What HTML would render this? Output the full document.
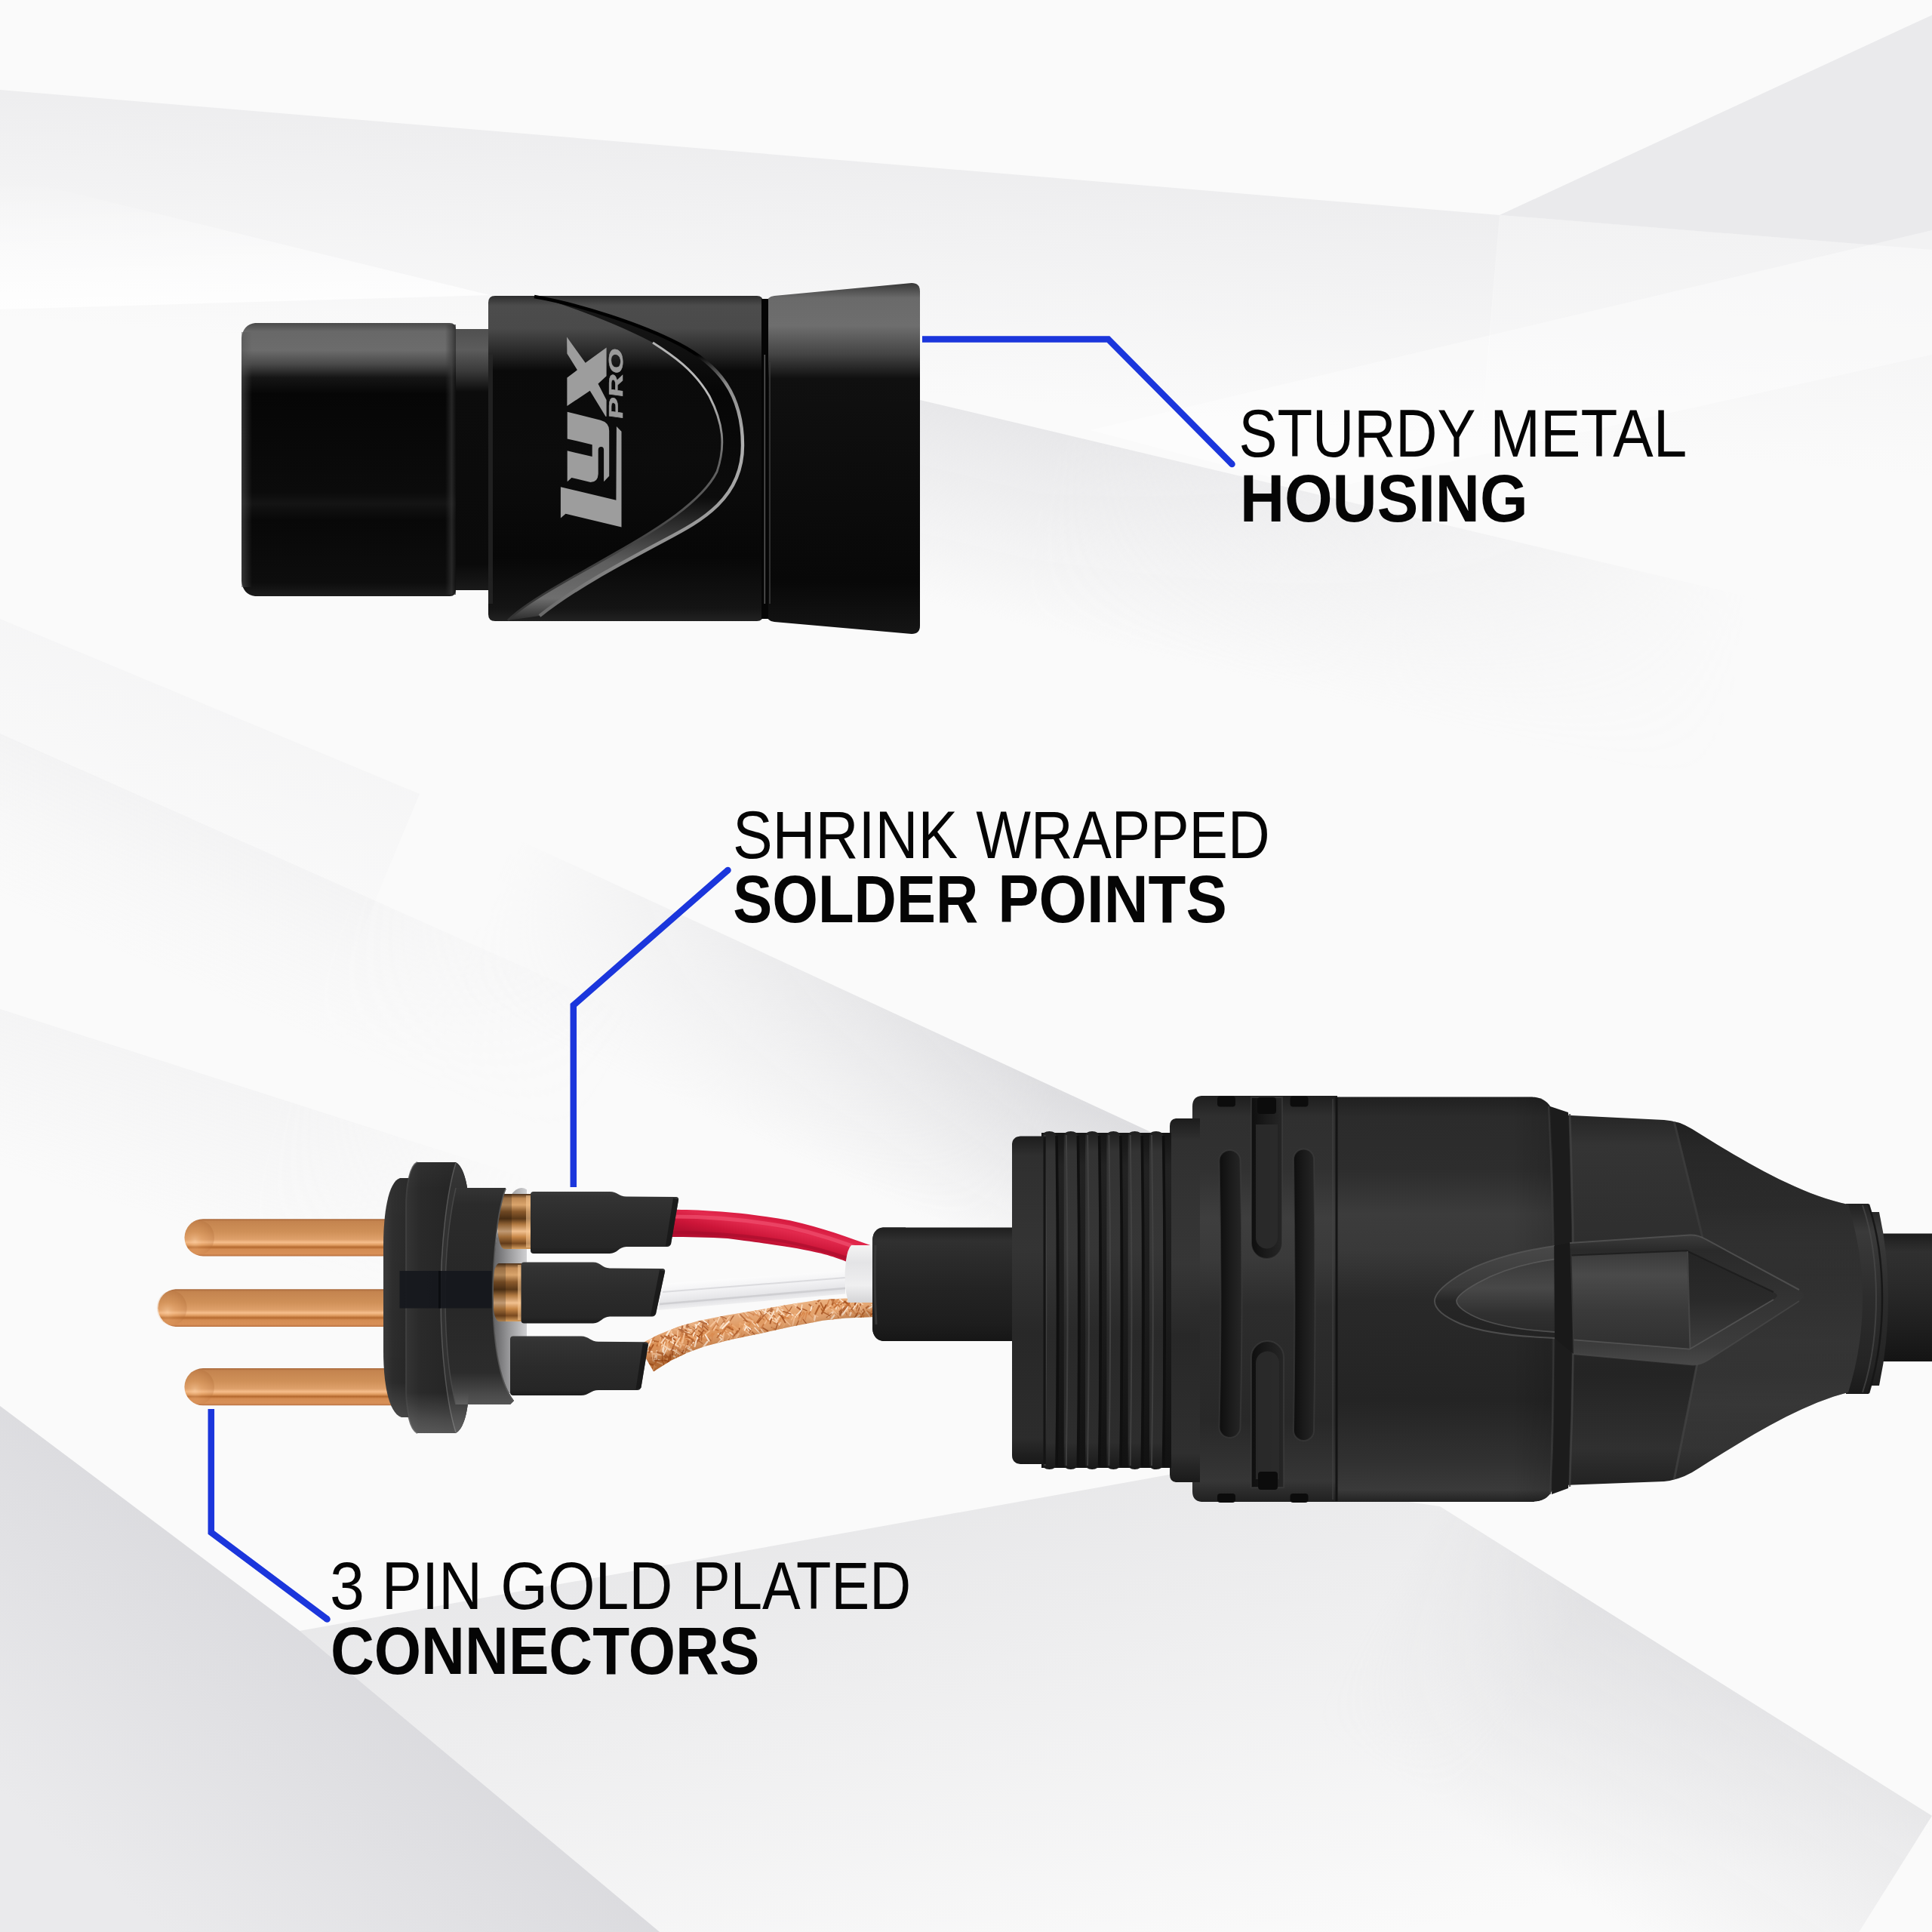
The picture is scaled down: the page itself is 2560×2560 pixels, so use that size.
<!DOCTYPE html>
<html>
<head>
<meta charset="utf-8">
<title>XLR connector features</title>
<style>
html,body{margin:0;padding:0;background:#f7f7f8;}
body{width:2560px;height:2560px;overflow:hidden;font-family:"Liberation Sans",sans-serif;}
svg{display:block;position:absolute;left:0;top:0;}
text{font-family:"Liberation Sans",sans-serif;}
</style>
</head>
<body>
<svg width="2560" height="2560" viewBox="0 0 2560 2560">
<defs>
<linearGradient id="f1" gradientUnits="userSpaceOnUse" x1="994" y1="202" x2="969" y2="501"><stop offset="0" stop-color="#d6d6da" stop-opacity="0.34"/><stop offset="1" stop-color="#d6d6da" stop-opacity="0"/></linearGradient>
<linearGradient id="f1b" gradientUnits="userSpaceOnUse" x1="2344" y1="314" x2="2320" y2="613"><stop offset="0" stop-color="#d6d6da" stop-opacity="0.22"/><stop offset="1" stop-color="#d6d6da" stop-opacity="0"/></linearGradient>
<linearGradient id="f3" gradientUnits="userSpaceOnUse" x1="324" y1="400" x2="320" y2="231"><stop offset="0" stop-color="#ffffff" stop-opacity="0.8"/><stop offset="1" stop-color="#ffffff" stop-opacity="0"/></linearGradient>
<linearGradient id="f5" gradientUnits="userSpaceOnUse" x1="1960" y1="706" x2="1899" y2="959"><stop offset="0" stop-color="#d6d6da" stop-opacity="0.5"/><stop offset="1" stop-color="#d6d6da" stop-opacity="0"/></linearGradient>
<linearGradient id="f5t" gradientUnits="userSpaceOnUse" x1="1397" y1="572" x2="2330" y2="794"><stop offset="0" stop-color="#fff"/><stop offset="1" stop-color="#000"/></linearGradient>
<mask id="f5m" maskUnits="userSpaceOnUse" x="0" y="0" width="2560" height="2560"><rect width="2560" height="2560" fill="url(#f5t)"/></mask>
<linearGradient id="s1a" gradientUnits="userSpaceOnUse" x1="278" y1="936" x2="186" y2="1157"><stop offset="0" stop-color="#d6d6da" stop-opacity="0.12"/><stop offset="1" stop-color="#d6d6da" stop-opacity="0"/></linearGradient>
<linearGradient id="s1b" gradientUnits="userSpaceOnUse" x1="1086" y1="1297" x2="989" y2="1506"><stop offset="0" stop-color="#d0d0d4" stop-opacity="0.68"/><stop offset="1" stop-color="#d0d0d4" stop-opacity="0"/></linearGradient>
<linearGradient id="s1bt" gradientUnits="userSpaceOnUse" x1="1404" y1="1444" x2="683" y2="1111"><stop offset="0" stop-color="#fff"/><stop offset="1" stop-color="#000"/></linearGradient>
<mask id="s1bm" maskUnits="userSpaceOnUse" x="0" y="0" width="2560" height="2560"><rect width="2560" height="2560" fill="url(#s1bt)"/></mask>
<linearGradient id="s2" gradientUnits="userSpaceOnUse" x1="424" y1="1161" x2="343" y2="1344"><stop offset="0" stop-color="#d6d6da" stop-opacity="0.12"/><stop offset="1" stop-color="#d6d6da" stop-opacity="0"/></linearGradient>
<linearGradient id="s2t" gradientUnits="userSpaceOnUse" x1="466" y1="1180" x2="848" y2="1350"><stop offset="0" stop-color="#fff"/><stop offset="1" stop-color="#000"/></linearGradient>
<mask id="s2m" maskUnits="userSpaceOnUse" x="0" y="0" width="2560" height="2560"><rect width="2560" height="2560" fill="url(#s2t)"/></mask>
<linearGradient id="s3" gradientUnits="userSpaceOnUse" x1="371" y1="1456" x2="310" y2="1646"><stop offset="0" stop-color="#d6d6da" stop-opacity="0.14"/><stop offset="1" stop-color="#d6d6da" stop-opacity="0"/></linearGradient>
<linearGradient id="s3t" gradientUnits="userSpaceOnUse" x1="371" y1="1456" x2="705" y2="1563"><stop offset="0" stop-color="#fff"/><stop offset="1" stop-color="#000"/></linearGradient>
<mask id="s3m" maskUnits="userSpaceOnUse" x="0" y="0" width="2560" height="2560"><rect width="2560" height="2560" fill="url(#s3t)"/></mask>
<linearGradient id="b1" gradientUnits="userSpaceOnUse" x1="636" y1="2360" x2="366" y2="2683"><stop offset="0" stop-color="#cdcdd2" stop-opacity="0.5"/><stop offset="1" stop-color="#cdcdd2" stop-opacity="0"/></linearGradient>
<linearGradient id="b2" gradientUnits="userSpaceOnUse" x1="987" y1="2055" x2="1102" y2="2695"><stop offset="0" stop-color="#d6d6d9" stop-opacity="0.48"/><stop offset="1" stop-color="#d6d6d9" stop-opacity="0"/></linearGradient>
<linearGradient id="b3" gradientUnits="userSpaceOnUse" x1="2234" y1="2201" x2="2053" y2="2489"><stop offset="0" stop-color="#cfcfd3" stop-opacity="0.42"/><stop offset="1" stop-color="#cfcfd3" stop-opacity="0"/></linearGradient>
<linearGradient id="b3t" gradientUnits="userSpaceOnUse" x1="2104" y1="2119" x2="1908" y2="1996"><stop offset="0" stop-color="#fff"/><stop offset="1" stop-color="#000"/></linearGradient>
<mask id="b3m" maskUnits="userSpaceOnUse" x="0" y="0" width="2560" height="2560"><rect width="2560" height="2560" fill="url(#b3t)"/></mask>
<linearGradient id="tcCyl" gradientUnits="userSpaceOnUse" x1="0" y1="428" x2="0" y2="790">
<stop offset="0" stop-color="#4a4a4a"/><stop offset=".03" stop-color="#686868"/><stop offset=".1" stop-color="#6c6c6c"/><stop offset=".15" stop-color="#4a4a4a"/><stop offset=".2" stop-color="#151515"/><stop offset=".26" stop-color="#060606"/><stop offset=".62" stop-color="#0b0b0b"/><stop offset=".66" stop-color="#141414"/><stop offset=".72" stop-color="#080808"/><stop offset=".95" stop-color="#0d0d0d"/><stop offset="1" stop-color="#1c1c1c"/></linearGradient>
<linearGradient id="tcCylEdge" x1="0" y1="0" x2="1" y2="0"><stop offset="0" stop-color="#555"/><stop offset="1" stop-color="#555" stop-opacity="0"/></linearGradient>
<linearGradient id="tcCylEdgeR" x1="0" y1="0" x2="1" y2="0"><stop offset="0" stop-color="#333" stop-opacity="0"/><stop offset=".6" stop-color="#3a3a3a"/><stop offset="1" stop-color="#111"/></linearGradient>
<linearGradient id="tcNeck" gradientUnits="userSpaceOnUse" x1="0" y1="436" x2="0" y2="782">
<stop offset="0" stop-color="#505050"/><stop offset=".08" stop-color="#5c5c5c"/><stop offset=".16" stop-color="#3a3a3a"/><stop offset=".24" stop-color="#0c0c0c"/><stop offset=".9" stop-color="#0a0a0a"/><stop offset="1" stop-color="#1a1a1a"/></linearGradient>
<linearGradient id="tcBody" gradientUnits="userSpaceOnUse" x1="0" y1="392" x2="0" y2="823">
<stop offset="0" stop-color="#2e2e2e"/><stop offset=".03" stop-color="#4c4c4c"/><stop offset=".1" stop-color="#4a4a4a"/><stop offset=".17" stop-color="#2a2a2a"/><stop offset=".23" stop-color="#0a0a0a"/><stop offset=".5" stop-color="#0c0c0c"/><stop offset=".8" stop-color="#070707"/><stop offset=".96" stop-color="#141414"/><stop offset="1" stop-color="#222"/></linearGradient>
<linearGradient id="tcFlare" gradientUnits="userSpaceOnUse" x1="0" y1="376" x2="0" y2="840">
<stop offset="0" stop-color="#3a3a3a"/><stop offset=".04" stop-color="#6a6a6a"/><stop offset=".12" stop-color="#6e6e6e"/><stop offset=".2" stop-color="#454545"/><stop offset=".27" stop-color="#101010"/><stop offset=".5" stop-color="#0d0d0d"/><stop offset=".85" stop-color="#080808"/><stop offset="1" stop-color="#151515"/></linearGradient>
<linearGradient id="tcRidge" gradientUnits="userSpaceOnUse" x1="0" y1="392" x2="0" y2="823"><stop offset="0" stop-color="#1a1a1a"/><stop offset=".15" stop-color="#111"/><stop offset=".3" stop-color="#060606"/><stop offset=".62" stop-color="#0c0c0c"/><stop offset=".74" stop-color="#3c3c3c"/><stop offset=".82" stop-color="#5e5e5e"/><stop offset=".93" stop-color="#6e6e6e"/><stop offset="1" stop-color="#2a2a2a"/></linearGradient>
<linearGradient id="tcRidgeHi" gradientUnits="userSpaceOnUse" x1="0" y1="392" x2="0" y2="823"><stop offset="0" stop-color="#000"/><stop offset=".18" stop-color="#000"/><stop offset=".27" stop-color="#8a8a8a"/><stop offset=".45" stop-color="#b0b0b0"/><stop offset=".7" stop-color="#9a9a9a"/><stop offset="1" stop-color="#666"/></linearGradient>
<linearGradient id="tcRidgeHi2" gradientUnits="userSpaceOnUse" x1="0" y1="392" x2="0" y2="823">
<stop offset="0" stop-color="#aaa"/><stop offset=".3" stop-color="#bbb"/><stop offset=".5" stop-color="#666"/><stop offset=".75" stop-color="#444"/><stop offset="1" stop-color="#333"/></linearGradient>
<linearGradient id="jacket" gradientUnits="userSpaceOnUse" x1="0" y1="1626" x2="0" y2="1777"><stop offset="0" stop-color="#1e1e1e"/><stop offset=".12" stop-color="#303030"/><stop offset=".3" stop-color="#2a2a2a"/><stop offset=".55" stop-color="#232323"/><stop offset=".85" stop-color="#1d1d1d"/><stop offset="1" stop-color="#161616"/></linearGradient>
<linearGradient id="braidBase" gradientUnits="userSpaceOnUse" x1="0" y1="1720" x2="0" y2="1820"><stop offset="0" stop-color="#e8a872"/><stop offset="1" stop-color="#cf7f42"/></linearGradient>
<linearGradient id="braidShade" gradientUnits="userSpaceOnUse" x1="1000" y1="1735" x2="1008" y2="1772"><stop offset="0" stop-color="#fff" stop-opacity=".18"/><stop offset=".5" stop-color="#fff" stop-opacity="0"/><stop offset="1" stop-color="#6a2e08" stop-opacity=".3"/></linearGradient>
<linearGradient id="whiteWire" gradientUnits="userSpaceOnUse" x1="1000" y1="1690" x2="1003" y2="1728"><stop offset="0" stop-color="#fdfdfd"/><stop offset=".4" stop-color="#f1f1f3"/><stop offset=".75" stop-color="#e2e2e5"/><stop offset="1" stop-color="#f4f4f5"/></linearGradient>
<linearGradient id="redWire" gradientUnits="userSpaceOnUse" x1="1000" y1="1610" x2="992" y2="1648"><stop offset="0" stop-color="#d81c41"/><stop offset=".3" stop-color="#e32a4e"/><stop offset=".7" stop-color="#cc1538"/><stop offset="1" stop-color="#b50f30"/></linearGradient>
<linearGradient id="whiteCap" gradientUnits="userSpaceOnUse" x1="0" y1="1650" x2="0" y2="1726"><stop offset="0" stop-color="#f4f4f4"/><stop offset=".3" stop-color="#e4e4e6"/><stop offset=".7" stop-color="#efeff0"/><stop offset="1" stop-color="#d4d4d6"/></linearGradient>
<linearGradient id="pinG" x1="0" y1="0" x2="0" y2="1"><stop offset="0" stop-color="#a8673a"/><stop offset=".06" stop-color="#c4844f"/><stop offset=".35" stop-color="#cf9058"/><stop offset=".55" stop-color="#dea06a"/><stop offset=".63" stop-color="#f6be8c"/><stop offset=".7" stop-color="#e09c60"/><stop offset=".76" stop-color="#b56a30"/><stop offset=".82" stop-color="#d48c52"/><stop offset=".94" stop-color="#d89058"/><stop offset="1" stop-color="#b87040"/></linearGradient>
<radialGradient id="pinTip" cx=".35" cy=".6" r=".7"><stop offset="0" stop-color="#ffd9b0" stop-opacity=".75"/><stop offset=".4" stop-color="#e8a468" stop-opacity=".4"/><stop offset="1" stop-color="#a05a28" stop-opacity=".45"/></radialGradient>
<linearGradient id="hubG" gradientUnits="userSpaceOnUse" x1="0" y1="1573" x2="0" y2="1862"><stop offset="0" stop-color="#343434"/><stop offset=".08" stop-color="#2b2b2b"/><stop offset=".5" stop-color="#272727"/><stop offset=".85" stop-color="#2c2c2c"/><stop offset=".95" stop-color="#4a4a4a"/><stop offset="1" stop-color="#555"/></linearGradient>
<linearGradient id="ringG" gradientUnits="userSpaceOnUse" x1="652" y1="0" x2="698" y2="0"><stop offset="0" stop-color="#5e5e60"/><stop offset=".5" stop-color="#9a9a9c"/><stop offset="1" stop-color="#d0d0d2"/></linearGradient>
<linearGradient id="ferG" x1="0" y1="0" x2="0" y2="1"><stop offset="0" stop-color="#4a2f18"/><stop offset=".08" stop-color="#c08a55"/><stop offset=".2" stop-color="#d9a46c"/><stop offset=".32" stop-color="#8a5a2c"/><stop offset=".45" stop-color="#5a3818"/><stop offset=".55" stop-color="#b07840"/><stop offset=".68" stop-color="#f0c090"/><stop offset=".78" stop-color="#c88848"/><stop offset=".9" stop-color="#7a4a20"/><stop offset="1" stop-color="#d8a060"/></linearGradient>
<linearGradient id="lipG" gradientUnits="userSpaceOnUse" x1="506" y1="0" x2="552" y2="0"><stop offset="0" stop-color="#3a3a3a"/><stop offset=".3" stop-color="#2c2c2c"/><stop offset="1" stop-color="#232323"/></linearGradient>
<linearGradient id="discG" gradientUnits="userSpaceOnUse" x1="538" y1="0" x2="600" y2="0"><stop offset="0" stop-color="#343434"/><stop offset=".3" stop-color="#2a2a2a"/><stop offset="1" stop-color="#252525"/></linearGradient>
<linearGradient id="tubeG" x1="0" y1="0" x2="0" y2="1"><stop offset="0" stop-color="#3a3a3a"/><stop offset=".08" stop-color="#333"/><stop offset=".5" stop-color="#2b2b2b"/><stop offset=".9" stop-color="#262626"/><stop offset="1" stop-color="#1c1c1c"/></linearGradient>
<linearGradient id="cableG" gradientUnits="userSpaceOnUse" x1="0" y1="1633" x2="0" y2="1804"><stop offset="0" stop-color="#1c1c1c"/><stop offset=".15" stop-color="#303030"/><stop offset=".4" stop-color="#2a2a2a"/><stop offset=".75" stop-color="#1e1e1e"/><stop offset="1" stop-color="#141414"/></linearGradient>
<linearGradient id="ringEndG" gradientUnits="userSpaceOnUse" x1="0" y1="1594" x2="0" y2="1847"><stop offset="0" stop-color="#202020"/><stop offset=".15" stop-color="#3a3a3a"/><stop offset=".5" stop-color="#2c2c2c"/><stop offset=".85" stop-color="#242424"/><stop offset="1" stop-color="#1a1a1a"/></linearGradient>
<linearGradient id="bootG" gradientUnits="userSpaceOnUse" x1="0" y1="1478" x2="0" y2="1968"><stop offset="0" stop-color="#262626"/><stop offset=".08" stop-color="#343434"/><stop offset=".3" stop-color="#2f2f2f"/><stop offset=".5" stop-color="#2a2a2a"/><stop offset=".7" stop-color="#242424"/><stop offset=".9" stop-color="#303030"/><stop offset="1" stop-color="#222"/></linearGradient>
<linearGradient id="bodyG" gradientUnits="userSpaceOnUse" x1="0" y1="1453" x2="0" y2="1990"><stop offset="0" stop-color="#202020"/><stop offset=".05" stop-color="#2b2b2b"/><stop offset=".18" stop-color="#2d2d2d"/><stop offset=".29" stop-color="#3c3c3c"/><stop offset=".38" stop-color="#393939"/><stop offset=".5" stop-color="#292929"/><stop offset=".75" stop-color="#242424"/><stop offset=".9" stop-color="#313131"/><stop offset=".97" stop-color="#3a3a3a"/><stop offset="1" stop-color="#222"/></linearGradient>
<linearGradient id="arrowOuter" gradientUnits="userSpaceOnUse" x1="0" y1="1645" x2="0" y2="1801"><stop offset="0" stop-color="#3e3e3e"/><stop offset=".5" stop-color="#2c2c2c"/><stop offset="1" stop-color="#1d1d1d"/></linearGradient>
<linearGradient id="arrowInnerL" gradientUnits="userSpaceOnUse" x1="0" y1="1666" x2="0" y2="1776"><stop offset="0" stop-color="#1e1e1e"/><stop offset=".5" stop-color="#333"/><stop offset="1" stop-color="#3a3a3a"/></linearGradient>
<linearGradient id="arrowInnerR" gradientUnits="userSpaceOnUse" x1="0" y1="1664" x2="0" y2="1782"><stop offset="0" stop-color="#1f1f1f"/><stop offset=".5" stop-color="#343434"/><stop offset="1" stop-color="#3b3b3b"/></linearGradient>
<linearGradient id="ringSlotG" gradientUnits="userSpaceOnUse" x1="0" y1="1452" x2="0" y2="1990"><stop offset="0" stop-color="#1e1e1e"/><stop offset=".05" stop-color="#2f2f2f"/><stop offset=".18" stop-color="#313131"/><stop offset=".3" stop-color="#3e3e3e"/><stop offset=".4" stop-color="#3a3a3a"/><stop offset=".52" stop-color="#2c2c2c"/><stop offset=".8" stop-color="#282828"/><stop offset=".95" stop-color="#363636"/><stop offset="1" stop-color="#202020"/></linearGradient>
<linearGradient id="slotG" x1="0" y1="0" x2="1" y2="0"><stop offset="0" stop-color="#0e0e0e"/><stop offset=".5" stop-color="#1b1b1b"/><stop offset="1" stop-color="#262626"/></linearGradient>
<linearGradient id="collarG" gradientUnits="userSpaceOnUse" x1="0" y1="1482" x2="0" y2="1964"><stop offset="0" stop-color="#1c1c1c"/><stop offset=".06" stop-color="#303030"/><stop offset=".4" stop-color="#363636"/><stop offset=".6" stop-color="#282828"/><stop offset=".92" stop-color="#2f2f2f"/><stop offset="1" stop-color="#1a1a1a"/></linearGradient>
<linearGradient id="threadBaseG" gradientUnits="userSpaceOnUse" x1="0" y1="1501" x2="0" y2="1945"><stop offset="0" stop-color="#151515"/><stop offset=".1" stop-color="#222"/><stop offset=".5" stop-color="#1c1c1c"/><stop offset="1" stop-color="#121212"/></linearGradient>
<linearGradient id="ridgeG" gradientUnits="userSpaceOnUse" x1="0" y1="1499" x2="0" y2="1947"><stop offset="0" stop-color="#1f1f1f"/><stop offset=".06" stop-color="#333"/><stop offset=".35" stop-color="#363636"/><stop offset=".6" stop-color="#292929"/><stop offset=".92" stop-color="#2d2d2d"/><stop offset="1" stop-color="#191919"/></linearGradient>
<linearGradient id="lipFrontG" gradientUnits="userSpaceOnUse" x1="0" y1="1505" x2="0" y2="1940"><stop offset="0" stop-color="#1d1d1d"/><stop offset=".06" stop-color="#2f2f2f"/><stop offset=".35" stop-color="#343434"/><stop offset=".6" stop-color="#282828"/><stop offset=".92" stop-color="#2c2c2c"/><stop offset="1" stop-color="#181818"/></linearGradient>
<linearGradient id="discShade" gradientUnits="userSpaceOnUse" x1="0" y1="1540" x2="0" y2="1899"><stop offset="0" stop-color="#fff" stop-opacity=".03"/><stop offset=".1" stop-color="#fff" stop-opacity="0"/><stop offset=".85" stop-color="#fff" stop-opacity="0"/><stop offset=".95" stop-color="#fff" stop-opacity=".16"/><stop offset="1" stop-color="#fff" stop-opacity=".22"/></linearGradient>
<linearGradient id="lipShade" gradientUnits="userSpaceOnUse" x1="0" y1="1561" x2="0" y2="1879"><stop offset="0" stop-color="#fff" stop-opacity=".02"/><stop offset=".85" stop-color="#fff" stop-opacity="0"/><stop offset="1" stop-color="#fff" stop-opacity=".15"/></linearGradient>
<linearGradient id="coneG" gradientUnits="userSpaceOnUse" x1="0" y1="1500" x2="0" y2="1950"><stop offset="0" stop-color="#1a1a1a" stop-opacity=".55"/><stop offset=".22" stop-color="#202020" stop-opacity=".35"/><stop offset=".4" stop-color="#444" stop-opacity=".15"/><stop offset=".62" stop-color="#555" stop-opacity=".3"/><stop offset=".8" stop-color="#555" stop-opacity=".32"/><stop offset="1" stop-color="#333" stop-opacity=".2"/></linearGradient>
<linearGradient id="bodyHi" gradientUnits="userSpaceOnUse" x1="1790" y1="0" x2="2056" y2="0"><stop offset="0" stop-color="#000" stop-opacity="0"/><stop offset=".15" stop-color="#000" stop-opacity="0"/><stop offset=".8" stop-color="#000" stop-opacity="0"/><stop offset="1" stop-color="#000" stop-opacity=".12"/></linearGradient>
<linearGradient id="almOuter" gradientUnits="userSpaceOnUse" x1="0" y1="1651" x2="0" y2="1773"><stop offset="0" stop-color="#484848"/><stop offset=".45" stop-color="#3a3a3a"/><stop offset=".6" stop-color="#262626"/><stop offset="1" stop-color="#232323"/></linearGradient>
<linearGradient id="almInner" gradientUnits="userSpaceOnUse" x1="0" y1="1668" x2="0" y2="1765"><stop offset="0" stop-color="#3a3a3a"/><stop offset=".4" stop-color="#484848"/><stop offset=".75" stop-color="#303030"/><stop offset="1" stop-color="#2a2a2a"/></linearGradient>
<linearGradient id="arrOuter" gradientUnits="userSpaceOnUse" x1="0" y1="1636" x2="0" y2="1809"><stop offset="0" stop-color="#3c3c3c"/><stop offset=".12" stop-color="#2a2a2a"/><stop offset=".85" stop-color="#3c3c3c"/><stop offset="1" stop-color="#484848"/></linearGradient>
<linearGradient id="arrInner" gradientUnits="userSpaceOnUse" x1="0" y1="1657" x2="0" y2="1788"><stop offset="0" stop-color="#3a3a3a"/><stop offset=".25" stop-color="#4a4a4a"/><stop offset=".6" stop-color="#3a3a3a"/><stop offset="1" stop-color="#303030"/></linearGradient>
<linearGradient id="arrTip" gradientUnits="userSpaceOnUse" x1="0" y1="1657" x2="0" y2="1788"><stop offset="0" stop-color="#242424"/><stop offset=".5" stop-color="#2a2a2a"/><stop offset="1" stop-color="#3e3e3e"/></linearGradient>

</defs>
<g id="bg">
<rect width="2560" height="2560" fill="#fafafa"/>
<polygon points="0,119 1987,285 1962,584 -25,418" fill="url(#f1)"/>
<polygon points="1987,285 2700,342 2676,641 1963,584" fill="url(#f1b)"/>
<polygon points="1987,285 2560,20 2560,331" fill="#eaeaec"/>
<polygon points="0,410 649,391 0,232" fill="url(#f3)"/>
<polygon points="1219,530 2700,882 2640,1135 1159,783" fill="url(#f5)" mask="url(#f5m)"/>
<polygon points="1444,570 2560,305 2560,470 1750,650" fill="#ffffff" opacity=".4"/>
<polygon points="0,820 556,1052 464,1273 -92,1041" fill="url(#s1a)"/>
<polygon points="556,1052 1616,1542 1519,1751 459,1261" fill="url(#s1b)" mask="url(#s1bm)"/>
<polygon points="0,972 848,1350 767,1533 -81,1155" fill="url(#s2)" mask="url(#s2m)"/>
<polygon points="0,1337 742,1575 681,1765 -61,1527" fill="url(#s3)" mask="url(#s3m)"/>
<polygon points="0,1863 397,2161 874,2560 0,2560" fill="#dcdce0" opacity=".55"/>
<polygon points="0,1863 397,2161 874,2560 0,2560" fill="url(#b1)"/>
<polygon points="397,2161 1577,1949 1908,1996 2560,2406 2560,2560 874,2560" fill="url(#b2)"/>
<polygon points="1908,1996 2560,2406 2379,2694 1727,2284" fill="url(#b3)" mask="url(#b3m)"/>
</g>

<g id="topconn">
<!-- neck -->
<rect x="600" y="436" width="50" height="346" fill="url(#tcNeck)"/>
<!-- left cylinder -->
<path d="M338 428 H596 Q604 428 604 437 V781 Q604 790 596 790 H338 Q322 788 320 770 V448 Q322 430 338 428Z" fill="url(#tcCyl)"/>
<rect x="320" y="440" width="14" height="338" fill="url(#tcCylEdge)" opacity=".55"/>
<rect x="590" y="430" width="14" height="358" fill="url(#tcCylEdgeR)" opacity=".6"/>
<!-- body -->
<path d="M656 392 H1003 Q1011 392 1011 400 V815 Q1011 823 1003 823 H656 Q647 823 647 814 V401 Q647 392 656 392Z" fill="url(#tcBody)"/>
<rect x="647" y="470" width="6" height="330" fill="#2a2a2a" opacity=".7"/>
<!-- flare -->
<path d="M1016 402 Q1016 393 1026 392 L1208 375 Q1219 375 1219 386 V829 Q1219 840 1208 840 L1026 824 Q1016 823 1016 814Z" fill="url(#tcFlare)"/>
<!-- gap -->
<rect x="1009" y="396" width="9" height="424" fill="#050505"/>
<rect x="1012.5" y="470" width="1.6" height="330" fill="#6a6a6a" opacity=".8"/>
<rect x="1019" y="480" width="2" height="320" fill="#3a3a3a" opacity=".8"/>
<!-- U groove ridge -->
<path d="M708 393 C770 404 850 430 900 456 C950 482 984 520 984 590 C984 660 930 690 880 716 C820 748 760 780 715 816 L673 822 C700 795 760 765 815 733 C870 702 930 665 950 625 C962 590 958 560 940 525 C920 490 890 470 865 454 C820 430 760 408 722 396Z" fill="url(#tcRidge)"/>
<path d="M708 393 C770 404 850 430 900 456 C950 482 984 520 984 590 C984 660 930 690 880 716 C820 748 760 780 715 816" fill="none" stroke="url(#tcRidgeHi)" stroke-width="4.4"/>
<path d="M865 454 C890 470 920 490 940 525 C958 560 962 590 950 625 C930 665 870 702 815 733 C760 765 700 795 673 822" fill="none" stroke="url(#tcRidgeHi2)" stroke-width="2.8"/>
<!-- logo -->
<g fill="#9d9d9d">
<path d="M742.9 645.2 L816.4 662.8 L816.9 565.1 L823.5 571.7 L823.5 698.5 L749.5 680.8 L742.9 686.6Z"/>
<path d="M751.7 545.7 L795.7 556.7 Q807.2 559.8 807.2 570.8 L807.2 630.7 L800.1 638.2 L800.1 596.3 Q800.1 591.9 796.6 591.9 Q792.7 591.9 792.7 596.3 L792.7 628 Q792.2 639 782.5 639 L757.4 632.9 L751.7 638.2 L751.7 597.2 L784.7 605.1 L784.7 589.3 L751.7 581.4Z"/>
<path d="M751.1 446.4 L775.7 480.8 L803.6 460.6 L803.6 498.3 L792.5 508.4 L803.6 529.9 L803.6 551.8 L802.6 552.1 L781.7 517.8 L751.4 538 L751.4 500.6 L764.9 490.2 L751.4 468.6Z"/>
<g opacity=".99"><text transform="translate(824.5 556.5) rotate(-90) skewX(-8)" font-size="26" font-weight="bold" textLength="94" lengthAdjust="spacingAndGlyphs" stroke="#9d9d9d" stroke-width=".5">PRO</text></g>
</g>
</g>

<g id="pins">
<path d="M1170 1626.5 H1345 V1777 H1170 Q1157 1775 1156 1760 V1643 Q1157 1628 1170 1626.5Z" fill="url(#jacket)"/>
<clipPath id="braidClip"><path d="M845.9 1782.7 L871.3 1769.0 L898.5 1758.0 L925.5 1750.3 L961.7 1742.9 L1002.6 1736.2 L1042.3 1729.1 L1086.6 1722.3 L1119.5 1720.6 L1159.9 1721.0 L1160.1 1745.0 L1120.5 1746.4 L1090.2 1749.7 L1047.7 1757.9 L1008.6 1766.8 L968.3 1775.1 L934.5 1783.7 L911.5 1792.0 L888.7 1803.0 L866.1 1817.3Z"/></clipPath>
<path d="M845.9 1782.7 L871.3 1769.0 L898.5 1758.0 L925.5 1750.3 L961.7 1742.9 L1002.6 1736.2 L1042.3 1729.1 L1086.6 1722.3 L1119.5 1720.6 L1159.9 1721.0 L1160.1 1745.0 L1120.5 1746.4 L1090.2 1749.7 L1047.7 1757.9 L1008.6 1766.8 L968.3 1775.1 L934.5 1783.7 L911.5 1792.0 L888.7 1803.0 L866.1 1817.3Z" fill="url(#braidBase)"/>
<g clip-path="url(#braidClip)" stroke-linecap="round" fill="none">
<path d="M921.1 1759.6L927.2 1752.6" stroke="#fbe3cc" stroke-width="1.9"/>
<path d="M1125.5 1728.2L1129.3 1724.1" stroke="#f2b98a" stroke-width="1.9"/>
<path d="M869.7 1799.6L870.4 1789.9" stroke="#f7d2b0" stroke-width="1.9"/>
<path d="M952.3 1780.8L954.8 1775.3" stroke="#d9884c" stroke-width="1.4"/>
<path d="M875.9 1782.7L881.2 1774.7" stroke="#c9743a" stroke-width="1.6"/>
<path d="M998.4 1742.7L1002.1 1734.5" stroke="#d9884c" stroke-width="2.1"/>
<path d="M970.4 1768.2L980.1 1774.1" stroke="#c9743a" stroke-width="1.3"/>
<path d="M919.8 1766.8L925.2 1771.7" stroke="#f2b98a" stroke-width="1.3"/>
<path d="M958.0 1773.4L959.2 1765.1" stroke="#f2b98a" stroke-width="2.1"/>
<path d="M1010.8 1759.5L1017.4 1763.6" stroke="#a8521f" stroke-width="1.9"/>
<path d="M967.3 1765.9L975.3 1772.4" stroke="#f7d2b0" stroke-width="2.1"/>
<path d="M921.8 1769.7L929.2 1772.9" stroke="#fbe3cc" stroke-width="1.2"/>
<path d="M967.7 1750.1L971.0 1744.3" stroke="#b35f28" stroke-width="1.4"/>
<path d="M905.4 1768.4L913.7 1770.5" stroke="#b35f28" stroke-width="2.3"/>
<path d="M1097.2 1739.6L1104.7 1750.1" stroke="#d9884c" stroke-width="2.3"/>
<path d="M883.6 1773.4L884.5 1768.4" stroke="#e9a46c" stroke-width="1.5"/>
<path d="M851.8 1795.1L858.7 1798.3" stroke="#e9a46c" stroke-width="2.0"/>
<path d="M988.5 1763.0L994.7 1752.8" stroke="#d9884c" stroke-width="1.7"/>
<path d="M946.4 1761.1L951.6 1762.9" stroke="#c9743a" stroke-width="1.7"/>
<path d="M880.1 1792.1L883.3 1786.8" stroke="#f2b98a" stroke-width="2.3"/>
<path d="M1022.4 1737.4L1024.9 1731.8" stroke="#b35f28" stroke-width="2.3"/>
<path d="M1020.5 1753.7L1023.5 1741.1" stroke="#a8521f" stroke-width="1.8"/>
<path d="M918.1 1753.7L924.6 1759.7" stroke="#e9a46c" stroke-width="1.8"/>
<path d="M903.3 1791.0L912.4 1792.8" stroke="#f7d2b0" stroke-width="2.1"/>
<path d="M922.8 1777.8L924.4 1770.9" stroke="#fbe3cc" stroke-width="2.3"/>
<path d="M931.3 1752.7L938.5 1759.5" stroke="#c9743a" stroke-width="2.2"/>
<path d="M1097.1 1744.5L1103.8 1738.5" stroke="#f7d2b0" stroke-width="2.4"/>
<path d="M1089.0 1740.6L1094.7 1729.3" stroke="#a8521f" stroke-width="2.2"/>
<path d="M1063.6 1734.4L1069.0 1736.6" stroke="#a8521f" stroke-width="1.4"/>
<path d="M901.3 1785.8L904.3 1776.0" stroke="#f2b98a" stroke-width="2.2"/>
<path d="M879.3 1784.3L881.2 1778.2" stroke="#fbe3cc" stroke-width="1.3"/>
<path d="M1136.3 1734.3L1145.1 1743.2" stroke="#e9a46c" stroke-width="1.4"/>
<path d="M875.9 1770.3L880.6 1774.3" stroke="#a8521f" stroke-width="2.0"/>
<path d="M931.5 1771.2L940.0 1763.6" stroke="#f2b98a" stroke-width="1.8"/>
<path d="M1134.7 1734.7L1137.5 1728.6" stroke="#b35f28" stroke-width="1.5"/>
<path d="M983.6 1761.4L990.9 1765.5" stroke="#e9a46c" stroke-width="1.3"/>
<path d="M1072.0 1744.7L1079.0 1754.5" stroke="#e9a46c" stroke-width="1.8"/>
<path d="M988.1 1734.8L994.2 1742.6" stroke="#e9a46c" stroke-width="1.4"/>
<path d="M974.2 1767.9L979.7 1760.6" stroke="#a8521f" stroke-width="2.1"/>
<path d="M879.0 1791.1L881.1 1786.2" stroke="#f2b98a" stroke-width="1.8"/>
<path d="M1006.9 1763.2L1011.9 1754.7" stroke="#c9743a" stroke-width="2.0"/>
<path d="M965.4 1757.3L970.8 1761.8" stroke="#b35f28" stroke-width="2.3"/>
<path d="M1118.8 1724.2L1123.8 1727.5" stroke="#a8521f" stroke-width="1.6"/>
<path d="M1044.2 1746.3L1048.6 1735.9" stroke="#e9a46c" stroke-width="2.3"/>
<path d="M1032.3 1736.1L1039.6 1746.5" stroke="#c9743a" stroke-width="2.1"/>
<path d="M885.0 1806.7L882.6 1795.2" stroke="#e9a46c" stroke-width="2.0"/>
<path d="M1154.8 1728.5L1160.9 1732.9" stroke="#fbe3cc" stroke-width="1.2"/>
<path d="M1002.1 1753.6L1007.3 1746.0" stroke="#b35f28" stroke-width="1.8"/>
<path d="M880.0 1811.1L878.9 1805.4" stroke="#b35f28" stroke-width="1.5"/>
<path d="M1123.5 1730.6L1128.6 1720.0" stroke="#b35f28" stroke-width="1.7"/>
<path d="M996.9 1751.1L1000.7 1755.4" stroke="#f7d2b0" stroke-width="2.2"/>
<path d="M898.6 1788.7L905.7 1795.8" stroke="#b35f28" stroke-width="1.3"/>
<path d="M1107.5 1725.9L1112.2 1719.8" stroke="#d9884c" stroke-width="2.3"/>
<path d="M910.9 1765.5L911.6 1752.7" stroke="#b35f28" stroke-width="1.3"/>
<path d="M894.7 1769.2L900.6 1772.2" stroke="#a8521f" stroke-width="1.8"/>
<path d="M893.0 1776.8L892.5 1771.5" stroke="#f7d2b0" stroke-width="2.1"/>
<path d="M998.4 1740.2L1006.0 1744.3" stroke="#d9884c" stroke-width="2.0"/>
<path d="M1000.0 1759.3L1008.6 1768.9" stroke="#fbe3cc" stroke-width="1.4"/>
<path d="M1116.0 1742.6L1121.0 1736.6" stroke="#f7d2b0" stroke-width="2.2"/>
<path d="M859.0 1801.7L864.2 1803.3" stroke="#d9884c" stroke-width="2.2"/>
<path d="M1044.4 1739.4L1046.4 1734.5" stroke="#e9a46c" stroke-width="1.4"/>
<path d="M961.7 1747.2L966.4 1755.3" stroke="#c9743a" stroke-width="1.2"/>
<path d="M1114.2 1728.6L1120.9 1724.2" stroke="#a8521f" stroke-width="1.5"/>
<path d="M1035.6 1741.0L1043.9 1733.0" stroke="#e9a46c" stroke-width="1.7"/>
<path d="M853.0 1777.3L858.1 1779.7" stroke="#e9a46c" stroke-width="2.0"/>
<path d="M1062.8 1746.6L1069.4 1755.1" stroke="#a8521f" stroke-width="1.4"/>
<path d="M1066.7 1748.8L1069.6 1738.5" stroke="#d9884c" stroke-width="2.1"/>
<path d="M1095.7 1730.0L1099.2 1721.0" stroke="#c9743a" stroke-width="1.3"/>
<path d="M866.7 1803.5L868.9 1795.2" stroke="#f7d2b0" stroke-width="2.0"/>
<path d="M1027.9 1749.7L1035.5 1753.8" stroke="#f2b98a" stroke-width="2.1"/>
<path d="M985.2 1760.3L988.0 1752.0" stroke="#f2b98a" stroke-width="2.2"/>
<path d="M909.3 1789.2L912.0 1776.7" stroke="#a8521f" stroke-width="2.2"/>
<path d="M876.4 1801.5L884.8 1806.7" stroke="#c9743a" stroke-width="1.3"/>
<path d="M881.9 1772.3L887.0 1775.5" stroke="#a8521f" stroke-width="1.3"/>
<path d="M916.4 1781.0L918.3 1774.0" stroke="#b35f28" stroke-width="1.8"/>
<path d="M969.0 1747.6L972.5 1743.1" stroke="#a8521f" stroke-width="1.2"/>
<path d="M970.2 1764.8L974.2 1771.8" stroke="#c9743a" stroke-width="1.3"/>
<path d="M878.0 1794.9L882.7 1798.8" stroke="#b35f28" stroke-width="2.3"/>
<path d="M1055.5 1731.6L1060.6 1735.2" stroke="#a8521f" stroke-width="2.0"/>
<path d="M951.2 1767.3L957.6 1771.1" stroke="#fbe3cc" stroke-width="1.2"/>
<path d="M1078.8 1750.4L1080.1 1744.0" stroke="#f7d2b0" stroke-width="2.3"/>
<path d="M913.5 1763.1L924.1 1768.6" stroke="#f2b98a" stroke-width="1.6"/>
<path d="M956.6 1755.1L959.8 1750.7" stroke="#b35f28" stroke-width="2.0"/>
<path d="M892.7 1797.0L898.5 1799.9" stroke="#fbe3cc" stroke-width="2.1"/>
<path d="M952.7 1739.8L959.9 1750.1" stroke="#c9743a" stroke-width="2.1"/>
<path d="M868.5 1800.4L874.0 1802.9" stroke="#b35f28" stroke-width="1.8"/>
<path d="M1125.8 1737.6L1130.8 1731.7" stroke="#b35f28" stroke-width="1.5"/>
<path d="M1071.4 1740.2L1076.4 1745.6" stroke="#d9884c" stroke-width="1.3"/>
<path d="M1030.9 1730.0L1037.4 1735.6" stroke="#fbe3cc" stroke-width="2.4"/>
<path d="M962.8 1749.4L966.9 1744.6" stroke="#f2b98a" stroke-width="1.6"/>
<path d="M942.4 1780.2L944.4 1769.4" stroke="#d9884c" stroke-width="1.7"/>
<path d="M1072.2 1728.6L1076.8 1731.6" stroke="#b35f28" stroke-width="1.9"/>
<path d="M935.6 1775.6L944.1 1767.0" stroke="#d9884c" stroke-width="1.7"/>
<path d="M965.2 1776.5L971.2 1770.6" stroke="#a8521f" stroke-width="2.4"/>
<path d="M977.3 1739.4L980.8 1745.5" stroke="#f2b98a" stroke-width="1.5"/>
<path d="M896.6 1803.6L896.1 1792.8" stroke="#a8521f" stroke-width="1.3"/>
<path d="M1081.6 1727.1L1089.8 1717.9" stroke="#b35f28" stroke-width="2.4"/>
<path d="M1028.9 1745.1L1032.9 1749.4" stroke="#f2b98a" stroke-width="1.6"/>
<path d="M1135.7 1722.6L1143.5 1728.6" stroke="#f7d2b0" stroke-width="1.8"/>
<path d="M1155.2 1722.7L1162.0 1732.7" stroke="#a8521f" stroke-width="1.8"/>
<path d="M997.3 1734.8L1002.3 1740.4" stroke="#f7d2b0" stroke-width="1.4"/>
<path d="M1115.4 1741.0L1122.9 1733.8" stroke="#fbe3cc" stroke-width="1.5"/>
<path d="M856.2 1789.2L864.1 1791.2" stroke="#f7d2b0" stroke-width="2.2"/>
<path d="M1071.7 1741.6L1075.0 1735.9" stroke="#c9743a" stroke-width="1.5"/>
<path d="M903.7 1782.9L913.6 1784.6" stroke="#e9a46c" stroke-width="2.3"/>
<path d="M981.7 1772.3L982.8 1766.2" stroke="#d9884c" stroke-width="1.3"/>
<path d="M860.3 1800.3L865.8 1800.3" stroke="#d9884c" stroke-width="1.7"/>
<path d="M1060.9 1741.4L1062.8 1729.0" stroke="#fbe3cc" stroke-width="1.4"/>
<path d="M1035.2 1743.6L1045.0 1746.9" stroke="#d9884c" stroke-width="2.2"/>
<path d="M1151.4 1733.5L1157.7 1729.9" stroke="#fbe3cc" stroke-width="1.7"/>
<path d="M1115.4 1739.4L1122.7 1730.9" stroke="#b35f28" stroke-width="2.2"/>
<path d="M953.6 1743.4L962.2 1747.2" stroke="#a8521f" stroke-width="1.4"/>
<path d="M941.5 1781.3L944.0 1774.7" stroke="#d9884c" stroke-width="1.2"/>
<path d="M853.0 1785.9L856.7 1775.5" stroke="#fbe3cc" stroke-width="1.6"/>
<path d="M930.8 1786.5L937.3 1777.9" stroke="#fbe3cc" stroke-width="2.3"/>
<path d="M922.0 1779.6L926.6 1774.5" stroke="#a8521f" stroke-width="2.1"/>
<path d="M971.3 1761.6L977.5 1771.3" stroke="#e9a46c" stroke-width="2.3"/>
<path d="M896.4 1785.5L904.9 1792.8" stroke="#c9743a" stroke-width="1.6"/>
<path d="M923.9 1767.2L926.9 1759.6" stroke="#e9a46c" stroke-width="1.5"/>
<path d="M856.6 1775.8L865.0 1776.5" stroke="#f2b98a" stroke-width="2.4"/>
<path d="M907.3 1763.6L912.8 1751.9" stroke="#a8521f" stroke-width="1.4"/>
<path d="M883.8 1788.3L884.9 1776.6" stroke="#f2b98a" stroke-width="2.1"/>
<path d="M913.9 1760.0L923.6 1764.9" stroke="#c9743a" stroke-width="1.7"/>
<path d="M889.3 1766.4L896.4 1772.9" stroke="#fbe3cc" stroke-width="1.3"/>
<path d="M908.1 1767.0L909.6 1761.4" stroke="#a8521f" stroke-width="2.4"/>
<path d="M878.2 1792.4L877.1 1780.1" stroke="#f7d2b0" stroke-width="2.3"/>
<path d="M902.2 1762.7L902.7 1754.7" stroke="#e9a46c" stroke-width="1.7"/>
<path d="M913.4 1785.6L919.6 1778.0" stroke="#fbe3cc" stroke-width="1.5"/>
<path d="M938.2 1755.2L938.7 1749.9" stroke="#c9743a" stroke-width="2.2"/>
<path d="M1096.7 1730.6L1103.1 1734.6" stroke="#c9743a" stroke-width="1.2"/>
<path d="M979.8 1753.5L987.4 1756.6" stroke="#e9a46c" stroke-width="2.0"/>
<path d="M865.7 1776.3L872.7 1778.3" stroke="#b35f28" stroke-width="1.7"/>
<path d="M869.5 1801.1L874.4 1802.5" stroke="#fbe3cc" stroke-width="2.0"/>
<path d="M945.8 1762.5L948.9 1757.0" stroke="#f2b98a" stroke-width="2.2"/>
<path d="M953.8 1772.0L957.8 1776.5" stroke="#f7d2b0" stroke-width="1.9"/>
<path d="M1035.6 1762.9L1040.9 1751.7" stroke="#e9a46c" stroke-width="1.4"/>
<path d="M916.2 1774.8L921.8 1767.8" stroke="#c9743a" stroke-width="1.6"/>
<path d="M1100.5 1719.5L1108.3 1725.6" stroke="#d9884c" stroke-width="1.3"/>
<path d="M1061.3 1751.1L1066.2 1740.3" stroke="#d9884c" stroke-width="1.9"/>
<path d="M895.1 1781.7L902.4 1771.6" stroke="#e9a46c" stroke-width="1.7"/>
<path d="M876.0 1779.9L881.6 1772.2" stroke="#f7d2b0" stroke-width="2.0"/>
<path d="M922.7 1761.2L930.9 1766.8" stroke="#b35f28" stroke-width="2.0"/>
<path d="M918.3 1757.7L925.0 1763.1" stroke="#a8521f" stroke-width="1.4"/>
<path d="M861.0 1815.5L872.0 1817.2" stroke="#a8521f" stroke-width="2.2"/>
<path d="M1094.2 1735.2L1100.8 1729.9" stroke="#f2b98a" stroke-width="2.2"/>
<path d="M986.7 1762.5L988.9 1757.3" stroke="#fbe3cc" stroke-width="2.1"/>
<path d="M983.0 1736.5L990.8 1744.6" stroke="#f7d2b0" stroke-width="2.2"/>
<path d="M1153.6 1742.5L1163.8 1734.7" stroke="#a8521f" stroke-width="1.5"/>
<path d="M1095.3 1745.5L1101.6 1740.9" stroke="#b35f28" stroke-width="1.4"/>
<path d="M1118.9 1725.2L1126.4 1730.2" stroke="#a8521f" stroke-width="1.4"/>
<path d="M911.3 1770.8L917.1 1773.8" stroke="#d9884c" stroke-width="1.4"/>
<path d="M1132.6 1734.5L1141.8 1741.0" stroke="#f2b98a" stroke-width="2.1"/>
<path d="M869.1 1804.2L878.0 1807.8" stroke="#f2b98a" stroke-width="1.5"/>
<path d="M994.8 1760.7L1006.0 1767.0" stroke="#e9a46c" stroke-width="1.6"/>
<path d="M1080.3 1741.0L1085.7 1729.6" stroke="#b35f28" stroke-width="2.2"/>
<path d="M909.5 1773.8L917.6 1781.2" stroke="#c9743a" stroke-width="1.4"/>
<path d="M1024.9 1742.6L1028.4 1747.6" stroke="#c9743a" stroke-width="1.9"/>
<path d="M852.5 1778.2L861.5 1780.1" stroke="#c9743a" stroke-width="1.7"/>
<path d="M915.4 1754.4L922.3 1759.7" stroke="#e9a46c" stroke-width="1.2"/>
<path d="M1091.1 1738.7L1100.0 1743.5" stroke="#b35f28" stroke-width="1.7"/>
<path d="M905.3 1752.5L913.0 1758.2" stroke="#a8521f" stroke-width="1.5"/>
<path d="M1122.8 1724.3L1127.5 1719.3" stroke="#f7d2b0" stroke-width="2.3"/>
<path d="M879.4 1793.5L882.2 1787.5" stroke="#d9884c" stroke-width="2.2"/>
<path d="M885.9 1769.8L896.9 1776.6" stroke="#a8521f" stroke-width="2.1"/>
<path d="M859.2 1810.9L869.4 1811.2" stroke="#e9a46c" stroke-width="1.5"/>
<path d="M870.9 1783.3L876.2 1772.4" stroke="#b35f28" stroke-width="2.1"/>
<path d="M910.7 1769.7L920.1 1777.7" stroke="#b35f28" stroke-width="1.6"/>
<path d="M1133.4 1745.6L1135.4 1740.9" stroke="#b35f28" stroke-width="2.3"/>
<path d="M1104.4 1730.2L1107.6 1723.2" stroke="#d9884c" stroke-width="1.6"/>
<path d="M909.4 1785.4L917.3 1790.2" stroke="#f7d2b0" stroke-width="2.2"/>
<path d="M961.7 1763.6L967.0 1769.8" stroke="#f2b98a" stroke-width="1.9"/>
<path d="M883.2 1769.3L890.0 1758.9" stroke="#fbe3cc" stroke-width="2.4"/>
<path d="M1054.1 1732.6L1057.9 1723.2" stroke="#f2b98a" stroke-width="2.1"/>
<path d="M865.7 1794.0L878.3 1795.5" stroke="#f2b98a" stroke-width="2.3"/>
<path d="M1077.8 1742.0L1083.9 1744.6" stroke="#f2b98a" stroke-width="1.2"/>
<path d="M1139.7 1748.0L1144.0 1738.9" stroke="#b35f28" stroke-width="1.8"/>
<path d="M887.7 1797.5L890.9 1790.5" stroke="#b35f28" stroke-width="1.2"/>
<path d="M906.8 1760.8L914.0 1769.4" stroke="#a8521f" stroke-width="2.2"/>
<path d="M1020.7 1731.7L1029.4 1734.6" stroke="#f2b98a" stroke-width="1.6"/>
<path d="M1058.0 1747.4L1062.1 1736.6" stroke="#b35f28" stroke-width="1.4"/>
<path d="M848.0 1793.4L852.6 1785.7" stroke="#a8521f" stroke-width="2.0"/>
<path d="M1101.0 1743.3L1104.8 1751.5" stroke="#e9a46c" stroke-width="1.5"/>
<path d="M900.1 1781.1L912.4 1783.7" stroke="#f2b98a" stroke-width="1.8"/>
<path d="M1154.6 1737.8L1159.0 1731.3" stroke="#d9884c" stroke-width="2.3"/>
<path d="M1120.1 1737.4L1122.2 1742.2" stroke="#c9743a" stroke-width="1.6"/>
<path d="M957.0 1766.7L963.4 1756.5" stroke="#c9743a" stroke-width="2.3"/>
<path d="M883.5 1791.2L886.5 1784.2" stroke="#e9a46c" stroke-width="2.2"/>
<path d="M963.6 1758.5L971.3 1762.2" stroke="#b35f28" stroke-width="1.9"/>
<path d="M881.8 1786.6L883.8 1779.8" stroke="#e9a46c" stroke-width="2.1"/>
<path d="M1147.9 1736.4L1154.1 1740.7" stroke="#c9743a" stroke-width="1.5"/>
<path d="M1143.0 1748.2L1144.9 1742.7" stroke="#d9884c" stroke-width="1.4"/>
<path d="M882.4 1774.2L888.4 1776.8" stroke="#f2b98a" stroke-width="1.5"/>
<path d="M1115.3 1737.0L1122.5 1728.3" stroke="#c9743a" stroke-width="1.8"/>
<path d="M1029.2 1749.1L1036.0 1740.6" stroke="#f7d2b0" stroke-width="2.1"/>
<path d="M1124.6 1727.0L1129.1 1736.3" stroke="#c9743a" stroke-width="2.0"/>
<path d="M1031.1 1741.4L1040.5 1746.5" stroke="#d9884c" stroke-width="1.5"/>
<path d="M950.1 1772.5L955.2 1765.8" stroke="#a8521f" stroke-width="1.2"/>
<path d="M1110.2 1738.3L1112.6 1731.0" stroke="#f7d2b0" stroke-width="1.7"/>
<path d="M982.2 1773.5L986.5 1768.4" stroke="#c9743a" stroke-width="1.8"/>
<path d="M879.3 1794.3L879.3 1785.2" stroke="#fbe3cc" stroke-width="1.8"/>
<path d="M957.3 1779.3L957.9 1772.8" stroke="#f2b98a" stroke-width="2.1"/>
<path d="M1023.6 1749.4L1030.7 1753.3" stroke="#f7d2b0" stroke-width="1.3"/>
<path d="M1127.8 1734.3L1131.4 1739.0" stroke="#b35f28" stroke-width="2.1"/>
<path d="M1136.4 1740.0L1140.3 1727.9" stroke="#a8521f" stroke-width="1.5"/>
<path d="M886.9 1798.3L889.7 1789.3" stroke="#c9743a" stroke-width="2.2"/>
<path d="M887.1 1786.7L893.8 1789.8" stroke="#e9a46c" stroke-width="2.1"/>
<path d="M973.3 1769.5L978.3 1763.3" stroke="#b35f28" stroke-width="2.4"/>
<path d="M1045.4 1739.3L1053.9 1745.0" stroke="#fbe3cc" stroke-width="1.8"/>
<path d="M957.6 1763.2L964.4 1766.0" stroke="#d9884c" stroke-width="1.3"/>
<path d="M1101.3 1748.9L1105.7 1742.5" stroke="#f7d2b0" stroke-width="2.0"/>
<path d="M893.1 1761.1L898.7 1762.7" stroke="#e9a46c" stroke-width="2.2"/>
<path d="M894.1 1780.6L898.0 1773.4" stroke="#e9a46c" stroke-width="1.9"/>
<path d="M1053.3 1761.3L1058.1 1750.1" stroke="#b35f28" stroke-width="1.4"/>
<path d="M1053.4 1740.4L1057.4 1744.8" stroke="#f2b98a" stroke-width="1.5"/>
<path d="M900.1 1759.2L907.3 1764.2" stroke="#e9a46c" stroke-width="2.0"/>
<path d="M904.5 1764.8L909.1 1758.7" stroke="#a8521f" stroke-width="2.0"/>
<path d="M1104.0 1726.5L1108.0 1736.1" stroke="#e9a46c" stroke-width="2.0"/>
<path d="M1029.2 1737.7L1033.6 1726.1" stroke="#fbe3cc" stroke-width="2.2"/>
<path d="M873.3 1792.3L878.6 1783.0" stroke="#e9a46c" stroke-width="1.6"/>
<path d="M1109.5 1726.6L1114.5 1734.6" stroke="#c9743a" stroke-width="1.5"/>
<path d="M930.0 1761.6L931.6 1754.4" stroke="#a8521f" stroke-width="1.7"/>
<path d="M982.8 1743.4L987.9 1752.3" stroke="#f2b98a" stroke-width="1.6"/>
<path d="M923.8 1764.1L924.7 1758.9" stroke="#d9884c" stroke-width="1.9"/>
<path d="M860.0 1792.0L865.6 1781.9" stroke="#a8521f" stroke-width="1.9"/>
<path d="M1040.0 1749.0L1047.2 1755.9" stroke="#f2b98a" stroke-width="1.5"/>
<path d="M1042.6 1744.5L1047.3 1740.1" stroke="#f7d2b0" stroke-width="1.7"/>
<path d="M884.5 1807.2L887.6 1796.0" stroke="#b35f28" stroke-width="1.9"/>
<path d="M908.4 1765.1L913.4 1766.2" stroke="#f7d2b0" stroke-width="1.8"/>
<path d="M990.7 1759.7L999.8 1768.1" stroke="#a8521f" stroke-width="1.3"/>
<path d="M1048.5 1748.8L1052.8 1741.7" stroke="#f2b98a" stroke-width="1.3"/>
<path d="M976.1 1771.9L978.8 1767.6" stroke="#f2b98a" stroke-width="2.4"/>
<path d="M1108.8 1728.4L1112.8 1725.2" stroke="#c9743a" stroke-width="1.7"/>
<path d="M1074.0 1745.7L1080.6 1754.2" stroke="#e9a46c" stroke-width="2.1"/>
<path d="M870.8 1791.7L882.6 1795.6" stroke="#b35f28" stroke-width="2.3"/>
<path d="M855.6 1781.9L860.7 1773.1" stroke="#f2b98a" stroke-width="1.7"/>
<path d="M923.4 1769.6L929.4 1774.1" stroke="#a8521f" stroke-width="1.8"/>
<path d="M897.6 1801.2L901.4 1791.7" stroke="#d9884c" stroke-width="1.8"/>
<path d="M1085.8 1730.7L1090.9 1738.7" stroke="#b35f28" stroke-width="1.5"/>
<path d="M1026.9 1746.8L1033.1 1755.6" stroke="#f7d2b0" stroke-width="2.2"/>
<path d="M1018.8 1739.5L1022.4 1745.5" stroke="#d9884c" stroke-width="2.0"/>
<path d="M1022.2 1758.7L1026.6 1761.2" stroke="#b35f28" stroke-width="1.5"/>
<path d="M895.4 1798.6L898.0 1793.1" stroke="#e9a46c" stroke-width="1.5"/>
<path d="M1107.7 1740.6L1112.1 1744.2" stroke="#a8521f" stroke-width="2.2"/>
<path d="M902.7 1788.1L904.9 1783.1" stroke="#d9884c" stroke-width="1.8"/>
<path d="M897.6 1772.6L898.1 1764.0" stroke="#f2b98a" stroke-width="1.8"/>
<path d="M928.9 1746.8L938.1 1754.8" stroke="#fbe3cc" stroke-width="1.8"/>
<path d="M1011.6 1743.7L1019.8 1735.8" stroke="#b35f28" stroke-width="1.6"/>
<path d="M1004.2 1752.7L1012.1 1743.1" stroke="#a8521f" stroke-width="1.6"/>
<path d="M879.5 1795.5L883.5 1786.6" stroke="#fbe3cc" stroke-width="1.5"/>
<path d="M1020.7 1741.7L1022.2 1729.8" stroke="#a8521f" stroke-width="1.9"/>
<path d="M903.5 1787.6L915.1 1792.6" stroke="#e9a46c" stroke-width="1.5"/>
<path d="M857.6 1787.6L858.9 1782.5" stroke="#f7d2b0" stroke-width="1.9"/>
<path d="M1113.0 1737.6L1116.4 1728.1" stroke="#f2b98a" stroke-width="2.0"/>
<path d="M871.5 1788.9L872.3 1776.3" stroke="#d9884c" stroke-width="1.4"/>
<path d="M1107.8 1734.3L1109.4 1727.7" stroke="#f7d2b0" stroke-width="2.3"/>
<path d="M1137.6 1724.7L1139.8 1719.8" stroke="#a8521f" stroke-width="1.3"/>
<path d="M890.9 1795.1L892.0 1787.8" stroke="#a8521f" stroke-width="2.1"/>
<path d="M871.5 1779.8L879.2 1781.9" stroke="#d9884c" stroke-width="1.4"/>
<path d="M902.3 1767.2L907.2 1755.9" stroke="#f7d2b0" stroke-width="1.4"/>
<path d="M1101.7 1720.8L1104.6 1726.2" stroke="#a8521f" stroke-width="2.3"/>
<path d="M1130.9 1734.0L1135.7 1726.9" stroke="#fbe3cc" stroke-width="1.6"/>
<path d="M900.1 1759.9L906.6 1761.9" stroke="#f7d2b0" stroke-width="1.4"/>
<path d="M967.8 1768.1L971.9 1774.0" stroke="#d9884c" stroke-width="1.5"/>
<path d="M859.8 1798.5L866.0 1799.9" stroke="#a8521f" stroke-width="1.3"/>
<path d="M968.8 1760.3L969.6 1754.9" stroke="#c9743a" stroke-width="1.9"/>
<path d="M1102.9 1728.7L1105.1 1720.5" stroke="#b35f28" stroke-width="2.4"/>
<path d="M1130.7 1720.9L1135.1 1725.5" stroke="#b35f28" stroke-width="1.4"/>
<path d="M1031.8 1741.0L1038.4 1746.4" stroke="#b35f28" stroke-width="1.4"/>
<path d="M963.2 1775.5L967.1 1770.3" stroke="#e9a46c" stroke-width="1.8"/>
<path d="M902.4 1769.2L904.1 1757.2" stroke="#a8521f" stroke-width="2.1"/>
<path d="M888.3 1770.5L889.7 1764.1" stroke="#f2b98a" stroke-width="2.0"/>
<path d="M992.5 1768.0L996.3 1761.1" stroke="#b35f28" stroke-width="2.2"/>
<path d="M1109.5 1738.2L1116.6 1729.6" stroke="#e9a46c" stroke-width="2.2"/>
<path d="M906.3 1760.0L916.7 1762.3" stroke="#f7d2b0" stroke-width="1.6"/>
<path d="M1131.3 1748.1L1140.1 1742.0" stroke="#fbe3cc" stroke-width="2.1"/>
<path d="M1112.2 1738.1L1116.3 1733.9" stroke="#a8521f" stroke-width="1.7"/>
<path d="M864.4 1812.7L870.8 1801.7" stroke="#c9743a" stroke-width="1.9"/>
<path d="M886.2 1778.9L893.7 1769.0" stroke="#c9743a" stroke-width="1.5"/>
<path d="M1102.0 1734.4L1109.3 1742.1" stroke="#f2b98a" stroke-width="1.6"/>
<path d="M865.6 1777.2L874.5 1777.8" stroke="#b35f28" stroke-width="1.3"/>
<path d="M888.2 1801.4L888.3 1795.3" stroke="#a8521f" stroke-width="2.1"/>
<path d="M892.9 1789.1L900.9 1794.7" stroke="#f7d2b0" stroke-width="1.7"/>
<path d="M1134.8 1736.0L1143.1 1744.3" stroke="#d9884c" stroke-width="2.2"/>
<path d="M1008.1 1761.0L1015.3 1770.3" stroke="#f7d2b0" stroke-width="1.6"/>
<path d="M886.7 1787.6L894.8 1789.8" stroke="#f7d2b0" stroke-width="1.6"/>
<path d="M989.5 1737.5L998.7 1742.2" stroke="#c9743a" stroke-width="1.4"/>
<path d="M1145.9 1735.2L1152.5 1744.6" stroke="#f7d2b0" stroke-width="1.2"/>
<path d="M1030.6 1734.5L1038.8 1742.5" stroke="#f7d2b0" stroke-width="1.9"/>
<path d="M909.1 1772.7L914.1 1774.6" stroke="#f2b98a" stroke-width="1.6"/>
<path d="M1031.4 1732.1L1040.5 1735.6" stroke="#e9a46c" stroke-width="1.7"/>
<path d="M989.1 1764.1L994.4 1769.0" stroke="#f2b98a" stroke-width="2.1"/>
<path d="M918.2 1772.0L920.0 1765.6" stroke="#fbe3cc" stroke-width="1.8"/>
<path d="M1001.9 1753.4L1005.1 1757.6" stroke="#fbe3cc" stroke-width="1.5"/>
<path d="M985.5 1749.5L992.9 1752.0" stroke="#c9743a" stroke-width="1.6"/>
<path d="M922.9 1764.7L928.7 1755.1" stroke="#e9a46c" stroke-width="1.9"/>
<path d="M1019.8 1748.5L1025.3 1738.2" stroke="#fbe3cc" stroke-width="2.1"/>
<path d="M873.1 1782.2L875.5 1772.1" stroke="#e9a46c" stroke-width="2.0"/>
<path d="M1027.5 1762.7L1030.9 1752.3" stroke="#a8521f" stroke-width="1.5"/>
<path d="M1031.5 1752.4L1034.6 1747.5" stroke="#d9884c" stroke-width="2.1"/>
<path d="M1013.3 1754.0L1019.3 1744.5" stroke="#f2b98a" stroke-width="1.7"/>
<path d="M964.1 1755.0L971.1 1759.2" stroke="#d9884c" stroke-width="2.0"/>
<path d="M858.8 1806.7L866.0 1808.6" stroke="#b35f28" stroke-width="2.2"/>
<path d="M957.0 1760.1L965.7 1751.3" stroke="#fbe3cc" stroke-width="2.4"/>
<path d="M1018.9 1738.2L1026.5 1741.9" stroke="#f7d2b0" stroke-width="1.2"/>
<path d="M913.5 1781.7L920.6 1790.4" stroke="#d9884c" stroke-width="1.8"/>
<path d="M990.6 1758.2L994.8 1761.5" stroke="#fbe3cc" stroke-width="1.7"/>
<path d="M847.8 1787.4L851.4 1780.3" stroke="#d9884c" stroke-width="2.0"/>
<path d="M1132.7 1728.8L1135.6 1720.4" stroke="#a8521f" stroke-width="2.1"/>
<path d="M1120.7 1737.9L1126.7 1733.4" stroke="#f2b98a" stroke-width="2.2"/>
<path d="M983.8 1737.9L991.5 1746.5" stroke="#d9884c" stroke-width="2.0"/>
<path d="M994.3 1766.3L997.5 1760.6" stroke="#e9a46c" stroke-width="1.3"/>
<path d="M1005.6 1741.3L1007.4 1736.5" stroke="#f7d2b0" stroke-width="1.6"/>
<path d="M1049.6 1726.0L1054.3 1729.4" stroke="#f7d2b0" stroke-width="2.0"/>
<path d="M894.7 1773.4L903.7 1781.6" stroke="#e9a46c" stroke-width="1.9"/>
<path d="M949.7 1753.1L953.7 1745.0" stroke="#f7d2b0" stroke-width="1.3"/>
<path d="M888.8 1777.9L898.6 1783.9" stroke="#f7d2b0" stroke-width="2.0"/>
<path d="M1051.0 1748.2L1053.8 1740.9" stroke="#e9a46c" stroke-width="1.2"/>
<path d="M1031.2 1760.3L1036.1 1753.3" stroke="#d9884c" stroke-width="1.2"/>
<path d="M901.4 1776.5L904.6 1767.0" stroke="#c9743a" stroke-width="1.5"/>
<path d="M889.7 1789.8L894.7 1778.6" stroke="#a8521f" stroke-width="1.6"/>
<path d="M1023.6 1759.4L1026.5 1764.2" stroke="#d9884c" stroke-width="2.0"/>
<path d="M1012.9 1743.2L1018.0 1750.4" stroke="#c9743a" stroke-width="1.3"/>
<path d="M891.7 1779.7L891.2 1772.4" stroke="#fbe3cc" stroke-width="1.3"/>
<path d="M992.6 1744.9L1001.4 1754.0" stroke="#d9884c" stroke-width="2.2"/>
<path d="M931.8 1760.6L935.5 1753.8" stroke="#d9884c" stroke-width="1.2"/>
<path d="M1041.3 1741.4L1045.1 1736.8" stroke="#c9743a" stroke-width="1.5"/>
<path d="M1099.8 1720.9L1108.0 1728.8" stroke="#c9743a" stroke-width="1.4"/>
<path d="M934.3 1769.8L941.4 1776.3" stroke="#b35f28" stroke-width="2.3"/>
<path d="M981.2 1741.8L989.7 1751.0" stroke="#b35f28" stroke-width="1.9"/>
<path d="M965.0 1778.9L969.7 1771.1" stroke="#e9a46c" stroke-width="2.2"/>
<path d="M878.4 1782.0L887.3 1788.6" stroke="#f7d2b0" stroke-width="2.0"/>
<path d="M1005.2 1741.0L1012.3 1748.8" stroke="#c9743a" stroke-width="1.6"/>
<path d="M1037.9 1728.2L1044.7 1736.9" stroke="#c9743a" stroke-width="1.3"/>
<path d="M921.5 1763.5L922.7 1755.4" stroke="#fbe3cc" stroke-width="1.7"/>
<path d="M1126.2 1743.4L1128.4 1737.4" stroke="#fbe3cc" stroke-width="2.0"/>
<path d="M1038.0 1737.8L1048.1 1741.1" stroke="#a8521f" stroke-width="1.5"/>
<path d="M1105.5 1732.5L1109.9 1728.6" stroke="#c9743a" stroke-width="2.1"/>
<path d="M854.4 1784.7L856.8 1773.9" stroke="#e9a46c" stroke-width="1.7"/>
<path d="M860.3 1792.0L861.1 1785.2" stroke="#a8521f" stroke-width="2.1"/>
<path d="M909.7 1768.1L913.4 1772.7" stroke="#b35f28" stroke-width="2.3"/>
<path d="M1114.9 1741.1L1117.6 1731.0" stroke="#f7d2b0" stroke-width="2.1"/>
<path d="M906.6 1795.3L910.2 1784.9" stroke="#c9743a" stroke-width="1.5"/>
<path d="M880.4 1802.4L887.8 1804.7" stroke="#a8521f" stroke-width="1.8"/>
<path d="M1045.8 1737.2L1049.1 1731.6" stroke="#b35f28" stroke-width="1.4"/>
<path d="M895.2 1793.8L896.9 1787.0" stroke="#f7d2b0" stroke-width="1.4"/>
<path d="M926.4 1750.4L936.1 1754.3" stroke="#a8521f" stroke-width="2.0"/>
<path d="M900.8 1763.5L910.5 1766.4" stroke="#b35f28" stroke-width="1.4"/>
<path d="M1058.0 1747.8L1064.9 1738.6" stroke="#d9884c" stroke-width="2.1"/>
<path d="M892.5 1783.2L898.7 1788.6" stroke="#c9743a" stroke-width="1.3"/>
<path d="M914.5 1770.0L922.6 1760.9" stroke="#b35f28" stroke-width="1.4"/>
<path d="M1055.4 1742.7L1061.4 1736.6" stroke="#fbe3cc" stroke-width="1.5"/>
<path d="M1000.7 1732.8L1006.3 1742.3" stroke="#f2b98a" stroke-width="2.1"/>
<path d="M927.9 1773.8L936.5 1776.2" stroke="#d9884c" stroke-width="1.8"/>
<path d="M1087.5 1726.4L1092.0 1735.5" stroke="#b35f28" stroke-width="2.0"/>
<path d="M877.9 1804.3L877.5 1792.6" stroke="#b35f28" stroke-width="1.6"/>
<path d="M1141.9 1736.8L1150.8 1730.8" stroke="#b35f28" stroke-width="2.1"/>
<path d="M921.5 1755.4L928.8 1758.7" stroke="#fbe3cc" stroke-width="2.2"/>
<path d="M905.6 1762.3L908.9 1752.9" stroke="#d9884c" stroke-width="2.3"/>
<path d="M1136.9 1727.5L1143.5 1738.7" stroke="#f2b98a" stroke-width="1.4"/>
<path d="M899.6 1761.4L904.8 1762.8" stroke="#a8521f" stroke-width="1.8"/>
<path d="M902.1 1777.0L902.4 1765.2" stroke="#d9884c" stroke-width="1.4"/>
<path d="M860.6 1774.4L865.1 1777.6" stroke="#f7d2b0" stroke-width="2.0"/>
<path d="M1101.4 1747.6L1104.6 1743.8" stroke="#fbe3cc" stroke-width="1.9"/>
<path d="M970.4 1756.0L977.9 1761.5" stroke="#e9a46c" stroke-width="2.4"/>
<path d="M1144.4 1739.4L1148.2 1732.8" stroke="#b35f28" stroke-width="1.9"/>
<path d="M954.4 1759.6L958.9 1753.3" stroke="#f7d2b0" stroke-width="2.2"/>
<path d="M904.8 1787.1L910.6 1779.5" stroke="#d9884c" stroke-width="1.6"/>
<path d="M905.3 1770.8L911.5 1772.6" stroke="#c9743a" stroke-width="1.9"/>
<path d="M883.1 1796.8L888.6 1800.3" stroke="#b35f28" stroke-width="2.1"/>
<path d="M904.3 1779.2L906.9 1767.2" stroke="#f2b98a" stroke-width="2.2"/>
<path d="M1050.3 1755.8L1052.7 1746.7" stroke="#f2b98a" stroke-width="2.0"/>
<path d="M1143.9 1729.9L1147.5 1737.2" stroke="#e9a46c" stroke-width="2.4"/>
<path d="M894.8 1782.0L900.7 1772.4" stroke="#f7d2b0" stroke-width="1.7"/>
<path d="M856.6 1781.4L857.7 1775.6" stroke="#e9a46c" stroke-width="1.7"/>
<path d="M1116.8 1741.8L1123.5 1731.4" stroke="#fbe3cc" stroke-width="1.4"/>
<path d="M1074.2 1736.7L1075.8 1730.9" stroke="#fbe3cc" stroke-width="1.8"/>
<path d="M988.9 1747.5L998.1 1750.8" stroke="#f2b98a" stroke-width="1.6"/>
<path d="M929.4 1776.0L930.1 1765.7" stroke="#b35f28" stroke-width="1.6"/>
<path d="M1050.9 1727.0L1055.7 1729.1" stroke="#f2b98a" stroke-width="1.3"/>
<path d="M905.9 1756.6L912.8 1764.3" stroke="#e9a46c" stroke-width="1.9"/>
<path d="M915.2 1788.0L918.3 1792.0" stroke="#fbe3cc" stroke-width="2.4"/>
<path d="M979.8 1758.1L981.3 1753.1" stroke="#e9a46c" stroke-width="1.9"/>
<path d="M1035.1 1743.5L1040.5 1752.5" stroke="#a8521f" stroke-width="1.7"/>
<path d="M1112.7 1740.2L1118.8 1733.3" stroke="#b35f28" stroke-width="2.3"/>
<path d="M1013.4 1740.6L1016.1 1730.2" stroke="#fbe3cc" stroke-width="1.9"/>
<path d="M943.6 1761.9L948.6 1754.6" stroke="#c9743a" stroke-width="1.2"/>
<path d="M971.2 1778.6L975.5 1768.7" stroke="#e9a46c" stroke-width="1.5"/>
<path d="M912.2 1769.2L920.8 1773.4" stroke="#e9a46c" stroke-width="2.4"/>
<path d="M865.2 1803.3L864.0 1792.2" stroke="#f2b98a" stroke-width="1.6"/>
<path d="M920.6 1784.3L922.5 1777.1" stroke="#fbe3cc" stroke-width="2.1"/>
<path d="M986.3 1754.5L992.4 1763.3" stroke="#fbe3cc" stroke-width="1.3"/>
<path d="M925.0 1757.1L934.7 1764.4" stroke="#c9743a" stroke-width="2.4"/>
<path d="M880.7 1770.4L888.3 1773.5" stroke="#b35f28" stroke-width="2.3"/>
<path d="M1010.3 1736.3L1018.7 1740.8" stroke="#fbe3cc" stroke-width="1.3"/>
<path d="M902.5 1796.1L905.8 1789.0" stroke="#a8521f" stroke-width="1.6"/>
<path d="M1085.7 1737.9L1087.8 1730.6" stroke="#e9a46c" stroke-width="1.5"/>
<path d="M906.7 1759.5L908.7 1752.9" stroke="#f7d2b0" stroke-width="1.5"/>
<path d="M945.6 1748.4L951.7 1756.5" stroke="#c9743a" stroke-width="1.5"/>
<path d="M858.3 1785.4L863.6 1775.2" stroke="#fbe3cc" stroke-width="2.1"/>
<path d="M852.1 1797.6L852.9 1785.3" stroke="#c9743a" stroke-width="1.6"/>
<path d="M1109.1 1718.2L1116.9 1725.1" stroke="#fbe3cc" stroke-width="1.4"/>
<path d="M1111.4 1745.1L1115.2 1738.5" stroke="#a8521f" stroke-width="2.4"/>
<path d="M951.4 1779.2L956.9 1774.1" stroke="#fbe3cc" stroke-width="1.3"/>
<path d="M1025.3 1752.9L1030.0 1755.0" stroke="#c9743a" stroke-width="1.4"/>
<path d="M1078.6 1722.7L1086.0 1728.3" stroke="#e9a46c" stroke-width="2.0"/>
<path d="M1018.2 1739.7L1023.6 1746.6" stroke="#f7d2b0" stroke-width="2.1"/>
<path d="M924.3 1775.6L930.7 1780.1" stroke="#b35f28" stroke-width="1.4"/>
<path d="M852.5 1797.6L862.5 1798.5" stroke="#d9884c" stroke-width="2.1"/>
<path d="M864.2 1777.2L868.3 1768.7" stroke="#c9743a" stroke-width="1.9"/>
<path d="M897.6 1790.3L907.4 1797.6" stroke="#e9a46c" stroke-width="1.8"/>
<path d="M934.7 1769.0L939.5 1776.6" stroke="#fbe3cc" stroke-width="2.3"/>
<path d="M941.6 1757.4L949.1 1749.6" stroke="#f2b98a" stroke-width="2.2"/>
<path d="M1124.9 1735.4L1133.1 1740.2" stroke="#d9884c" stroke-width="2.3"/>
<path d="M942.6 1770.9L946.4 1767.4" stroke="#d9884c" stroke-width="1.5"/>
<path d="M932.6 1757.1L938.0 1762.2" stroke="#a8521f" stroke-width="1.5"/>
<path d="M1006.8 1737.5L1010.0 1742.7" stroke="#b35f28" stroke-width="1.5"/>
<path d="M926.3 1770.8L932.6 1762.5" stroke="#a8521f" stroke-width="1.5"/>
<path d="M867.2 1802.9L878.4 1803.0" stroke="#a8521f" stroke-width="1.4"/>
<path d="M1110.5 1742.4L1117.3 1751.6" stroke="#e9a46c" stroke-width="2.4"/>
<path d="M865.7 1816.8L866.9 1809.1" stroke="#e9a46c" stroke-width="1.8"/>
</g>
<path d="M845.9 1782.7 L871.3 1769.0 L898.5 1758.0 L925.5 1750.3 L961.7 1742.9 L1002.6 1736.2 L1042.3 1729.1 L1086.6 1722.3 L1119.5 1720.6 L1159.9 1721.0 L1160.1 1745.0 L1120.5 1746.4 L1090.2 1749.7 L1047.7 1757.9 L1008.6 1766.8 L968.3 1775.1 L934.5 1783.7 L911.5 1792.0 L888.7 1803.0 L866.1 1817.3Z" fill="url(#braidShade)"/>
<path d="M877 1701 L1120 1683.5 L1120 1714.6 L872 1736Z" fill="url(#whiteWire)"/>
<path d="M878 1712 L1120 1693" stroke="#d5d5d8" stroke-width="2" fill="none" opacity=".8"/>
<path d="M874 1728 L1120 1707" stroke="#c9c9cd" stroke-width="2.5" fill="none" opacity=".8"/>
<path d="M890 1602.8 C930 1603 985 1606 1047 1617.3 C1090 1627 1125 1640 1156 1651 L1156 1690 C1130 1672 1100 1664 1088 1660.8 C1060 1654 1026 1649 964 1641 C940 1639.5 910 1639 886 1639Z" fill="url(#redWire)"/>
<path d="M892 1612 C930 1612 985 1615 1045 1626 C1088 1636 1120 1647 1150 1659" stroke="#f0506f" stroke-width="5" fill="none" opacity=".7"/>
<path d="M888 1633 C930 1633 985 1636 1040 1645 C1075 1652 1100 1659 1125 1668" stroke="#a30d2c" stroke-width="4" fill="none" opacity=".55"/>
<path d="M1128 1650 H1157 V1726 H1124 Q1117 1700 1121 1670 Q1123 1655 1128 1650Z" fill="url(#whiteCap)"/>
<path d="M1170 1626.5 H1200 V1777 H1170 Q1157 1775 1156 1760 V1643 Q1157 1628 1170 1626.5Z" fill="url(#jacket)"/>
<path d="M1160 1650 Q1158 1700 1161 1755" stroke="#3c3c3c" stroke-width="3" fill="none" opacity=".8"/>
<path d="M269.1 1615.2 H520 V1664.4 H269.1 A24.6 24.6 0 0 1 269.1 1615.2Z" fill="url(#pinG)"/>
<ellipse cx="264.2" cy="1639.8" rx="19.7" ry="22.6" fill="url(#pinTip)" opacity=".55"/>
<path d="M232.7 1708.3 H520 V1758 H232.7 A24.9 24.9 0 0 1 232.7 1708.3Z" fill="url(#pinG)"/>
<ellipse cx="227.7" cy="1733.2" rx="19.9" ry="22.9" fill="url(#pinTip)" opacity=".55"/>
<path d="M269.1 1813 H525 V1862.3 H269.1 A24.6 24.6 0 0 1 269.1 1813Z" fill="url(#pinG)"/>
<ellipse cx="264.2" cy="1837.7" rx="19.7" ry="22.7" fill="url(#pinTip)" opacity=".55"/>
<clipPath id="ringClip"><rect x="640" y="1572" width="58" height="274"/></clipPath>
<ellipse cx="691" cy="1717" rx="39" ry="143" fill="url(#ringG)" clip-path="url(#ringClip)"/>
<path d="M668 1582 H704 V1655 H668 A9 36.5 0 0 1 668 1582Z" fill="url(#ferG)"/>
<path d="M661 1674 H692 V1751 H661 A9 38.5 0 0 1 661 1674Z" fill="url(#ferG)"/>
<path d="M668 1582 A9 36.5 0 0 0 668 1655 L678 1655 L678 1582Z" fill="#000" opacity=".2"/>
<path d="M661 1674 A9 38.5 0 0 0 661 1751 L670 1751 L670 1674Z" fill="#000" opacity=".2"/>
<rect x="697" y="1584" width="6" height="69" fill="#f7c894" opacity=".55"/>
<rect x="686" y="1676" width="5" height="73" fill="#f7c894" opacity=".55"/>
<path d="M598 1574 H670 C660 1600 653 1660 653 1717 C653 1770 660 1830 681 1856 L676 1861 H598Z" fill="url(#hubG)"/>
<path d="M670 1575 C660 1600 653 1660 653 1717 C653 1770 660 1830 680 1856" fill="none" stroke="#5a5a5a" stroke-width="1.6" opacity=".8"/>
<path d="M550 1561 H530 C514 1566 508 1610 508 1650 V1790 C508 1830 514 1872 532 1878 H550Z" fill="url(#lipG)"/>
<path d="M550 1561 H530 C514 1566 508 1610 508 1650 V1790 C508 1830 514 1872 532 1878 H550Z" fill="url(#lipShade)"/>
<path d="M553 1540 H604 C614 1545 621 1570 621 1600 V1840 C621 1870 614 1894 604 1899 H553 C543 1894 538 1870 538 1840 V1600 C538 1570 543 1545 553 1540Z" fill="url(#discG)"/>
<path d="M604 1541 C614 1546 621 1570 621 1600 V1840 C621 1870 614 1894 604 1898 C592 1860 584 1790 584 1720 C584 1650 592 1580 604 1541Z" fill="#323232"/>
<path d="M604 1541 C592 1580 584 1650 584 1720 C584 1790 592 1860 604 1898" fill="none" stroke="#666" stroke-width="1.5" opacity=".7"/>
<path d="M553 1540 C543 1545 538 1570 538 1600 V1840 C538 1870 543 1894 553 1899" fill="none" stroke="#454545" stroke-width="2" opacity=".7"/>
<path d="M604 1574 H670 C660 1600 653 1660 653 1717 C653 1770 660 1830 681 1856 L676 1861 H604 C596 1830 590 1780 590 1717 C590 1660 596 1610 604 1574Z" fill="url(#hubG)"/>
<path d="M604 1574 C596 1610 590 1660 590 1717 C590 1780 596 1830 604 1861" fill="none" stroke="#4c4c4c" stroke-width="1.5" opacity=".8"/>
<path d="M670 1575 C660 1600 653 1660 653 1717 C653 1770 660 1830 680 1856" fill="none" stroke="#5a5a5a" stroke-width="1.6" opacity=".8"/>
<path d="M553 1899 C543 1894 538 1870 538 1840 V1600 C538 1570 543 1545 553 1540 H604 C614 1545 621 1570 621 1600 V1840 C621 1870 614 1894 604 1899Z" fill="url(#discShade)"/>
<rect x="529.5" y="1684" width="122" height="49.5" fill="#15181d" opacity=".93"/>
<rect x="581" y="1684" width="3" height="49.5" fill="#0a0c10" opacity=".9"/>
<path d="M707 1579 H808 C818 1579 820 1585.5 830 1585.5 L896 1586.0 Q900 1586.5 899 1590.5 L889 1648 Q888 1652 884 1652 L830 1652 C820 1652 818 1661 808 1661 H707 Q703 1661 703 1657 V1583 Q703 1579 707 1579Z" fill="url(#tubeG)"/>
<path d="M892 1587.5 L899 1589.5 L889 1649 L882 1651Z" fill="#161616" opacity=".8"/>
<path d="M694.5 1672.6 H786 C796 1672.6 798 1680.5 808 1680.5 L878 1681.0 Q882 1681.5 881 1685.5 L869 1740.6 Q868 1744.6 864 1744.6 L808 1744.6 C798 1744.6 796 1753.5 786 1753.5 H694.5 Q690.5 1753.5 690.5 1749.5 V1676.6 Q690.5 1672.6 694.5 1672.6Z" fill="url(#tubeG)"/>
<path d="M874 1682.5 L881 1684.5 L869 1741.6 L862 1743.6Z" fill="#161616" opacity=".8"/>
<path d="M680 1770.5 H770 C780 1770.5 783 1777.8 793 1777.8 L855.8 1778.3 Q859.8 1778.8 858.8 1782.8 L849.5 1838 Q848.5 1842 844.5 1842 L793 1842 C783 1842 780 1849 770 1849 H680 Q676 1849 676 1845 V1774.5 Q676 1770.5 680 1770.5Z" fill="url(#tubeG)"/>
<path d="M851.8 1779.8 L858.8 1781.8 L849.5 1839 L842.5 1841Z" fill="#161616" opacity=".8"/>
</g>

<g id="bigconn">
<rect x="2494" y="1634.5" width="80" height="169.5" fill="url(#cableG)"/>
<path d="M2478 1606 H2490 Q2502 1660 2502 1720 Q2502 1780 2490 1836 H2478Z" fill="url(#ringEndG)"/>
<path d="M2446 1595 H2476 Q2494 1650 2494 1720 Q2494 1790 2476 1847 H2446Z" fill="url(#ringEndG)"/>
<path d="M2476 1596 Q2494 1650 2494 1720 Q2494 1790 2476 1846" stroke="#151515" stroke-width="2.5" fill="none" opacity=".9"/>
<path d="M2468 1597 Q2486 1650 2486 1720 Q2486 1790 2468 1845" stroke="#4a4a4a" stroke-width="2" fill="none" opacity=".7"/>
<path d="M2056 1470 Q2060 1477 2072 1477.6 L2205 1484 Q2224 1485 2242 1496 C2300 1532 2380 1582 2449 1596 Q2468 1660 2468 1720 Q2468 1785 2449 1845 C2380 1862 2300 1915 2242 1951 Q2224 1961 2205 1963 L2072 1968 Q2060 1969 2056 1976Z" fill="url(#bootG)"/>
<clipPath id="bootClip"><path d="M2056 1470 Q2060 1477 2072 1477.6 L2205 1484 Q2224 1485 2242 1496 C2300 1532 2380 1582 2449 1596 Q2468 1660 2468 1720 Q2468 1785 2449 1845 C2380 1862 2300 1915 2242 1951 Q2224 1961 2205 1963 L2072 1968 Q2060 1969 2056 1976Z"/></clipPath>
<g clip-path="url(#bootClip)">
<path d="M2218 1480 L2258 1640 L2390 1716 L2249 1803 L2218 1966 L2480 1966 L2480 1480Z" fill="url(#coneG)"/>
<path d="M2218 1485 L2256 1640" stroke="#3f3f3f" stroke-width="3" fill="none" opacity=".6"/>
<path d="M2249 1806 L2218 1962" stroke="#474747" stroke-width="3" fill="none" opacity=".6"/>
</g>
<path d="M1770 1453.4 H2030 Q2050 1455 2056 1470 V1976 Q2050 1989 2030 1990 H1770Z" fill="url(#bodyG)"/>
<path d="M1790 1453.4 H2030 Q2050 1455 2056 1470 V1976 Q2050 1989 2030 1990 H1790Z" fill="url(#bodyHi)"/>
<path d="M2054 1466 Q2066 1720 2056 1980 L2078 1972 Q2088 1720 2078 1474Z" fill="#1c1c1c"/>
<path d="M2080 1476 Q2090 1720 2080 1970" stroke="#424242" stroke-width="2.5" fill="none" opacity=".8"/>
<path d="M2052 1466 Q2064 1720 2054 1980" stroke="#3c3c3c" stroke-width="2" fill="none" opacity=".7"/>
<path d="M2060 1651 C2010 1658 1960 1672 1930 1692 C1910 1705 1901 1715 1901 1724 C1901 1734 1912 1744 1935 1754 C1965 1766 2010 1771 2060 1773Z" fill="url(#almOuter)"/>
<path d="M2060 1668.5 C2020 1674 1985 1685 1958 1700 C1940 1710 1930 1718 1930 1724 C1930 1731 1942 1740 1962 1748 C1990 1758 2025 1763 2060 1765Z" fill="url(#almInner)"/>
<path d="M2060 1651 C2010 1658 1960 1672 1930 1692 C1910 1705 1901 1715 1901 1724 C1901 1734 1912 1744 1935 1754 C1965 1766 2010 1771 2060 1773" stroke="#5a5a5a" stroke-width="2" fill="none" opacity=".75"/>
<path d="M2060 1668.5 C2020 1674 1985 1685 1958 1700 C1940 1710 1930 1718 1930 1724 C1930 1731 1942 1740 1962 1748 C1990 1758 2025 1763 2060 1765" stroke="#606060" stroke-width="1.8" fill="none" opacity=".7"/>
<path d="M2080 1647 L2239 1636.5 Q2250 1636 2260 1642 L2384 1709 Q2396 1716 2384 1724 L2262 1803 Q2252 1809 2243 1808.5 L2084 1794Z" fill="url(#arrOuter)"/>
<path d="M2082.5 1663.5 L2235 1657.3 L2350 1712 Q2360 1716 2350 1722 L2239 1787.7 L2085.5 1775.3Z" fill="url(#arrInner)"/>
<path d="M2235 1657.3 L2350 1712 Q2360 1716 2350 1722 L2239 1787.7Z" fill="url(#arrTip)"/>
<path d="M2080 1647 L2239 1636.5 Q2250 1636 2260 1642 L2384 1709" stroke="#555" stroke-width="2" fill="none" opacity=".8"/>
<path d="M2084 1794 L2243 1808.5 Q2252 1809 2262 1803 L2384 1724" stroke="#4a4a4a" stroke-width="2" fill="none" opacity=".7"/>
<path d="M2082.5 1663.5 L2235 1657.3 L2350 1712" stroke="#181818" stroke-width="2" fill="none" opacity=".7"/>
<path d="M2085.5 1775.3 L2239 1787.7 L2350 1722" stroke="#5c5c5c" stroke-width="1.8" fill="none" opacity=".7"/>
<path d="M2236 1658 L2239.5 1787" stroke="#555" stroke-width="2" fill="none" opacity=".6"/>
<path d="M2059 1651 L2080 1647 L2085 1794 L2060 1773Z" fill="#181818" opacity=".75"/>
<path d="M1592 1452 H1772 V1990 H1592 Q1580 1989 1580 1976 V1466 Q1580 1453 1592 1452Z" fill="url(#ringSlotG)"/>
<path d="M1771 1454 V1989" stroke="#111" stroke-width="3" opacity=".9"/>
<path d="M1766 1456 V1987" stroke="#444" stroke-width="2" opacity=".5"/>
<path d="M1615.5 1538.0 A14.0 14.0 0 0 1 1643.5 1538.0 Q1647.5 1714.5 1643.5 1891.0 A14.0 14.0 0 0 1 1615.5 1891.0 Q1619.5 1714.5 1615.5 1538.0Z" fill="url(#slotG)"/>
<path d="M1615.5 1538.0 A14.0 14.0 0 0 1 1643.5 1538.0 Q1647.5 1714.5 1643.5 1891.0 A14.0 14.0 0 0 1 1615.5 1891.0 Q1619.5 1714.5 1615.5 1538.0Z" fill="none" stroke="#404040" stroke-width="2" opacity=".55"/>
<path d="M1658 1454 V1454 H1699 Q1699 1561.0 1699 1647.5 A20.5 20.5 0 0 1 1658 1647.5 Q1658 1561.0 1658 1454Z" fill="url(#slotG)"/>
<path d="M1658 1454 V1454 H1699 Q1699 1561.0 1699 1647.5 A20.5 20.5 0 0 1 1658 1647.5 Q1658 1561.0 1658 1454Z" fill="none" stroke="#404040" stroke-width="2" opacity=".55"/>
<path d="M1658 1798.5 A21.5 21.5 0 0 1 1701 1798.5 Q1701 1874.0 1701 1971 V1971 H1658 Q1658 1874.0 1658 1798.5Z" fill="url(#slotG)"/>
<path d="M1658 1798.5 A21.5 21.5 0 0 1 1701 1798.5 Q1701 1874.0 1701 1971 V1971 H1658 Q1658 1874.0 1658 1798.5Z" fill="none" stroke="#404040" stroke-width="2" opacity=".55"/>
<path d="M1714 1536.0 A13.5 13.5 0 0 1 1741 1536.0 Q1744 1715.75 1741 1895.5 A13.5 13.5 0 0 1 1714 1895.5 Q1717 1715.75 1714 1536.0Z" fill="url(#slotG)"/>
<path d="M1714 1536.0 A13.5 13.5 0 0 1 1741 1536.0 Q1744 1715.75 1741 1895.5 A13.5 13.5 0 0 1 1714 1895.5 Q1717 1715.75 1714 1536.0Z" fill="none" stroke="#404040" stroke-width="2" opacity=".55"/>
<path d="M1664 1490 V1640 A14.5 14.5 0 0 0 1693 1640 V1490Z" fill="#2b2b2b" opacity=".9"/>
<path d="M1664 1960 V1806 A15.5 15.5 0 0 1 1695 1806 V1960Z" fill="#2b2b2b" opacity=".9"/>
<rect x="1613" y="1452.5" width="24" height="14" rx="4" fill="#0c0c0c"/>
<rect x="1709.5" y="1452.5" width="24" height="14" rx="4" fill="#0c0c0c"/>
<rect x="1613" y="1979" width="24" height="12" rx="4" fill="#0c0c0c"/>
<rect x="1709.5" y="1979" width="24" height="12" rx="4" fill="#0c0c0c"/>
<rect x="1666" y="1454" width="25" height="22" rx="4" fill="#0c0c0c"/>
<rect x="1667" y="1950" width="26" height="24" rx="4" fill="#0c0c0c"/>
<path d="M1558 1482 H1590 V1964 H1558 Q1550 1963 1550 1954 V1492 Q1550 1483 1558 1482Z" fill="url(#collarG)"/>
<rect x="1380" y="1501" width="172" height="444" fill="url(#threadBaseG)"/>
<path d="M1381.5 1506 Q1381.5 1499 1390.5 1499 Q1399.5 1499 1399.5 1506 V1940 Q1399.5 1947 1390.5 1947 Q1381.5 1947 1381.5 1940Z" fill="url(#ridgeG)"/>
<path d="M1400.0 1505 Q1403.5 1720 1400.0 1942" stroke="#0f0f0f" stroke-width="3.5" fill="none"/>
<path d="M1384.5 1504 Q1388.0 1720 1384.5 1942" stroke="#474747" stroke-width="2" fill="none" opacity=".75"/>
<path d="M1409.8 1506 Q1409.8 1499 1418.8 1499 Q1427.8 1499 1427.8 1506 V1940 Q1427.8 1947 1418.8 1947 Q1409.8 1947 1409.8 1940Z" fill="url(#ridgeG)"/>
<path d="M1428.3 1505 Q1431.8 1720 1428.3 1942" stroke="#0f0f0f" stroke-width="3.5" fill="none"/>
<path d="M1412.8 1504 Q1416.3 1720 1412.8 1942" stroke="#474747" stroke-width="2" fill="none" opacity=".75"/>
<path d="M1438.1 1506 Q1438.1 1499 1447.1 1499 Q1456.1 1499 1456.1 1506 V1940 Q1456.1 1947 1447.1 1947 Q1438.1 1947 1438.1 1940Z" fill="url(#ridgeG)"/>
<path d="M1456.6 1505 Q1460.1 1720 1456.6 1942" stroke="#0f0f0f" stroke-width="3.5" fill="none"/>
<path d="M1441.1 1504 Q1444.6 1720 1441.1 1942" stroke="#474747" stroke-width="2" fill="none" opacity=".75"/>
<path d="M1466.4 1506 Q1466.4 1499 1475.4 1499 Q1484.4 1499 1484.4 1506 V1940 Q1484.4 1947 1475.4 1947 Q1466.4 1947 1466.4 1940Z" fill="url(#ridgeG)"/>
<path d="M1484.9 1505 Q1488.4 1720 1484.9 1942" stroke="#0f0f0f" stroke-width="3.5" fill="none"/>
<path d="M1469.4 1504 Q1472.9 1720 1469.4 1942" stroke="#474747" stroke-width="2" fill="none" opacity=".75"/>
<path d="M1494.7 1506 Q1494.7 1499 1503.7 1499 Q1512.7 1499 1512.7 1506 V1940 Q1512.7 1947 1503.7 1947 Q1494.7 1947 1494.7 1940Z" fill="url(#ridgeG)"/>
<path d="M1513.2 1505 Q1516.7 1720 1513.2 1942" stroke="#0f0f0f" stroke-width="3.5" fill="none"/>
<path d="M1497.7 1504 Q1501.2 1720 1497.7 1942" stroke="#474747" stroke-width="2" fill="none" opacity=".75"/>
<path d="M1523.0 1506 Q1523.0 1499 1532.0 1499 Q1541.0 1499 1541.0 1506 V1940 Q1541.0 1947 1532.0 1947 Q1523.0 1947 1523.0 1940Z" fill="url(#ridgeG)"/>
<path d="M1541.5 1505 Q1545.0 1720 1541.5 1942" stroke="#0f0f0f" stroke-width="3.5" fill="none"/>
<path d="M1526.0 1504 Q1529.5 1720 1526.0 1942" stroke="#474747" stroke-width="2" fill="none" opacity=".75"/>
<path d="M1352 1505.5 H1386 V1940 H1352 Q1341 1939 1341 1928 V1517 Q1341 1506.5 1352 1505.5Z" fill="url(#lipFrontG)"/>
<path d="M1384 1507 V1939" stroke="#141414" stroke-width="3"/>
</g>

<g fill="none" stroke="#1b36dc" stroke-width="8.5" stroke-linejoin="miter">
<path d="M1222 449.5 H1468.5 L1632.5 615" stroke-linecap="butt"/>
<circle cx="1632.5" cy="615" r="4.25" fill="#1b36dc" stroke="none"/>
<path d="M759.8 1573 V1332 L964.5 1153"/>
<circle cx="964.5" cy="1153" r="4.25" fill="#1b36dc" stroke="none"/>
<path d="M279.8 1867 V2030.5 L433.5 2145.5"/>
<circle cx="433.5" cy="2145.5" r="4.25" fill="#1b36dc" stroke="none"/>
</g>

<g fill="#050505">
<text transform="translate(1641.47 604.9) scale(0.8579 1)" font-size="89">STURDY</text>
<text transform="translate(1974.3 604.9) scale(0.8996 1)" font-size="89">METAL</text>
<text transform="translate(1642.99 690.6) scale(0.9186 1)" font-size="89" font-weight="bold">HOUSING</text>
<text transform="translate(970.95 1136.6) scale(0.8867 1)" font-size="89">SHRINK</text>
<text transform="translate(1293.23 1136.6) scale(0.8652 1)" font-size="89">WRAPPED</text>
<text transform="translate(971.37 1222.3) scale(0.8759 1)" font-size="89" font-weight="bold">SOLDER</text>
<text transform="translate(1322.2 1222.3) scale(0.9165 1)" font-size="89" font-weight="bold">POINTS</text>
<text transform="translate(437.09 2132.3) scale(0.9286 1)" font-size="89">3</text>
<text transform="translate(505.82 2132.3) scale(0.8978 1)" font-size="89">PIN</text>
<text transform="translate(663.28 2132.3) scale(0.9045 1)" font-size="89">GOLD</text>
<text transform="translate(917.12 2132.3) scale(0.8537 1)" font-size="89">PLATED</text>
<text transform="translate(437.9 2218.1) scale(0.9006 1)" font-size="89" font-weight="bold">CONNECTORS</text>
</g>

</svg>
</body>
</html>
